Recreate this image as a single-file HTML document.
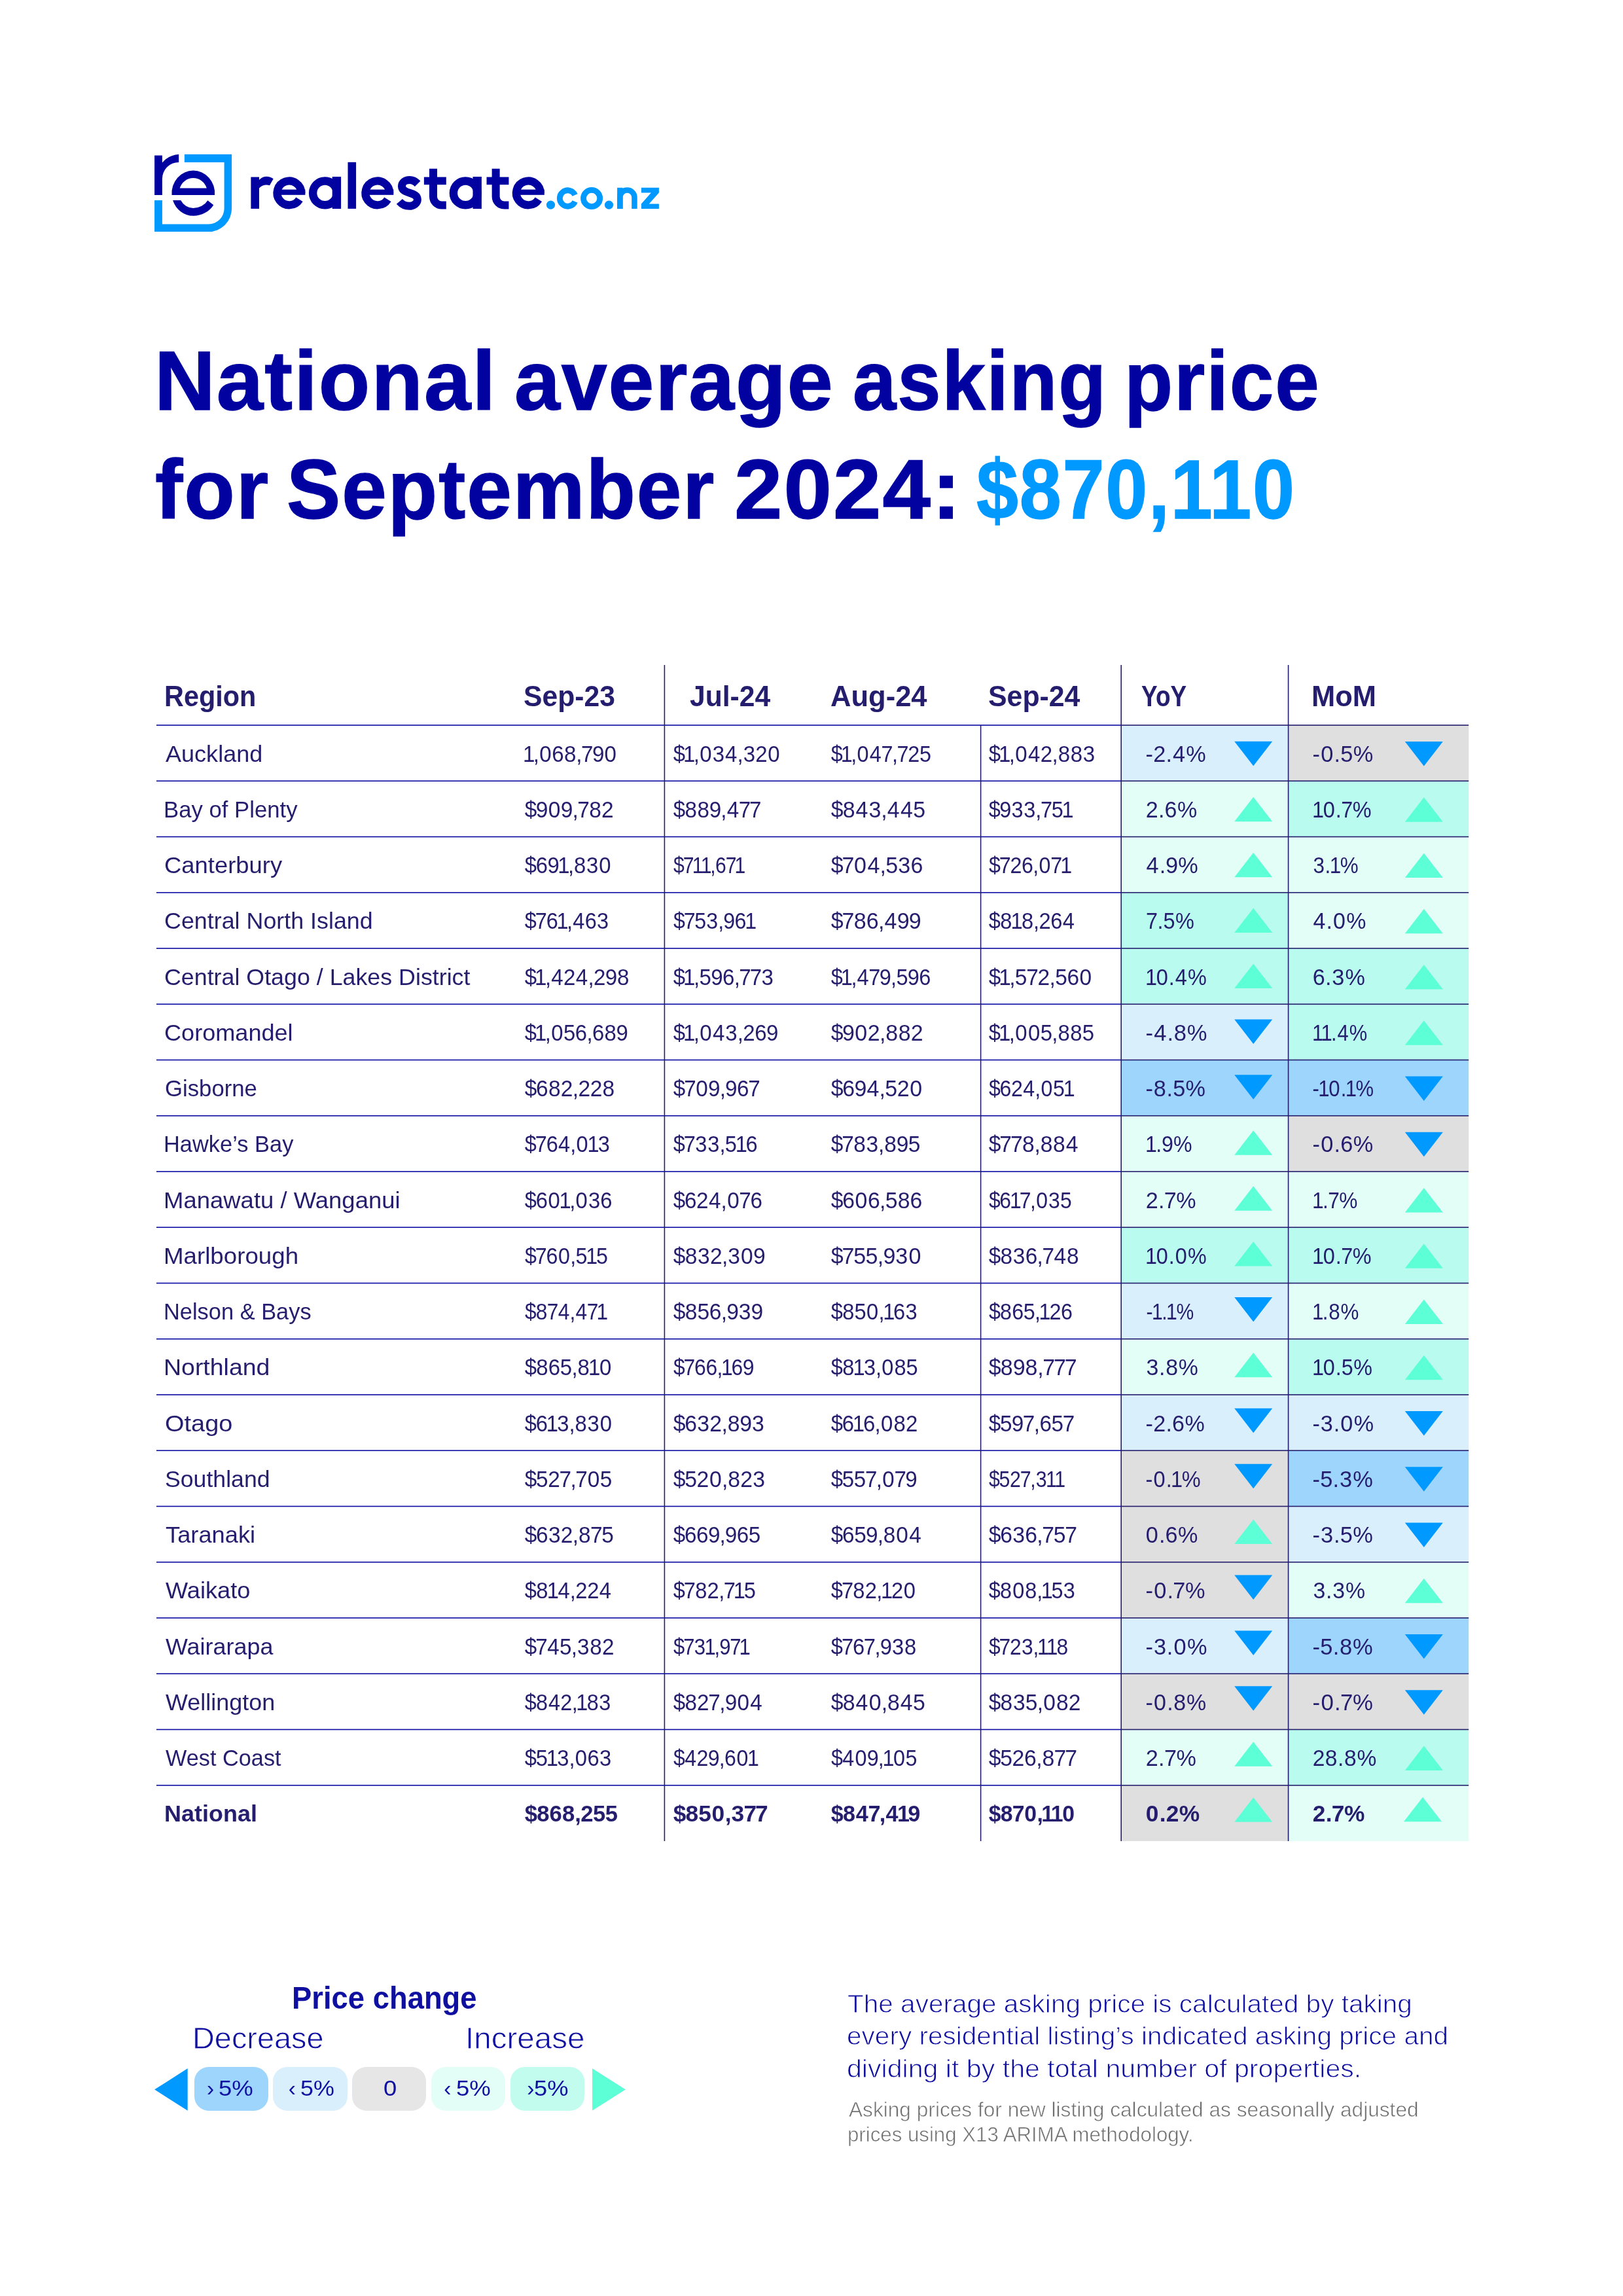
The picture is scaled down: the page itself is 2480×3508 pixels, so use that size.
<!DOCTYPE html>
<html><head><meta charset="utf-8"><title>National average asking price - September 2024</title>
<style>
html,body{margin:0;padding:0;background:#fff;}
body{width:2480px;height:3508px;position:relative;overflow:hidden;font-family:"Liberation Sans",sans-serif;}
.t{position:absolute;white-space:pre;transform-origin:0 0;}
.r{position:absolute;}
.abs{position:absolute;overflow:visible;}
#page{position:absolute;left:0;top:0;width:2480px;height:3508px;background:#fff;will-change:transform;overflow:hidden;}
</style></head><body><div id="page">
<svg class="abs" style="left:0;top:0" width="1100" height="400" viewBox="0 0 1100 400">
<path fill="#0099ff" d="M281.9,235.8 H354.1 V318.6 A35.5,35.5 0 0 1 318.6,354.1 H236.1 V306.1 H247.9 V342.6 H318.6 A24,24 0 0 0 342.6,318.6 V247.9 H281.9 Z"/>
<path fill="#0202a0" d="M236.1,237.5 H247.9 V248.4 A37.4,37.4 0 0 1 273.2,235.8 V247.9 A25.3,25.3 0 0 0 247.9,273.2 V297.9 H236.1 Z"/>
<path fill="#0202a0" fill-rule="evenodd" d="M262.5,297.9 A32.9,34.7 0 1 1 328.1,297.9 Z M274.75,287.4 A21.8,23 0 0 1 315.85,287.4 Z"/>
<path fill="#0202a0" d="M264.1,306.1 H276.2 A21.8,22.8 0 0 0 295.3,317.9 A25.4,22.8 0 0 0 317.4,306.3 L326.3,313.2 A36.3,34.7 0 0 1 295.3,329.8 A32.9,34.7 0 0 1 264.1,306.1 Z"/>
</svg>
<svg class="abs" style="left:0;top:0" width="1100" height="400" viewBox="0 0 1100 400"><rect x="383.40" y="270.50" width="12.60" height="48.40" fill="#0202a0"/><path fill="#0202a0" d="M395.5,275.5 A15.9,15.9 0 0 1 417.7,273.3 L412,283.2 A17,17 0 0 0 395.5,288 Z"/><path d="M460.30,294.90 A18.40,18.40 0 1 0 457.50,304.65" fill="none" stroke="#0202a0" stroke-width="12.2"/><rect x="423.50" y="289.60" width="42.90" height="8.20" fill="#0202a0"/><circle cx="496.50" cy="294.90" r="18.40" fill="none" stroke="#0202a0" stroke-width="12.4"/><rect x="507.70" y="270.00" width="13.40" height="49.00" fill="#0202a0"/><rect x="531.50" y="247.80" width="12.60" height="71.10" fill="#0202a0"/><path d="M595.20,294.90 A18.40,18.40 0 1 0 592.40,304.65" fill="none" stroke="#0202a0" stroke-width="12.2"/><rect x="558.40" y="289.60" width="42.90" height="8.20" fill="#0202a0"/><path d="M638.2,280.75 C634,276.5 630,275.05 625.9,275.05 C619,275.05 614,279 614,284.5 C614,291 620,293 626,294.8 C632,296.6 637.9,298.5 637.9,304.9 C637.9,310.5 632,314.85 625.5,314.85 C619,314.85 613.5,311.5 610.4,307.9" fill="none" stroke="#0202a0" stroke-width="12"/><path d="M662.00,257.7 V300.6 A13,13 0 0 0 675.00,313.6 H681.80" fill="none" stroke="#0202a0" stroke-width="12"/><rect x="647.90" y="270.50" width="33.90" height="11.70" fill="#0202a0"/><circle cx="711.30" cy="294.90" r="18.40" fill="none" stroke="#0202a0" stroke-width="12.4"/><rect x="722.50" y="270.00" width="13.40" height="49.00" fill="#0202a0"/><path d="M757.65,257.7 V300.6 A13,13 0 0 0 770.65,313.6 H777.45" fill="none" stroke="#0202a0" stroke-width="12"/><rect x="743.55" y="270.50" width="33.90" height="11.70" fill="#0202a0"/><path d="M825.70,294.90 A18.40,18.40 0 1 0 822.90,304.65" fill="none" stroke="#0202a0" stroke-width="12.2"/><rect x="788.90" y="289.60" width="42.90" height="8.20" fill="#0202a0"/><circle cx="841.5" cy="313.1" r="6.6" fill="#0099ff"/><path d="M878.65,298.04 A12.20,12.20 0 1 0 878.65,307.96" fill="none" stroke="#0099ff" stroke-width="8.8"/><circle cx="904.10" cy="303.00" r="12.60" fill="none" stroke="#0099ff" stroke-width="8.8"/><circle cx="930.5" cy="313.1" r="6.6" fill="#0099ff"/><rect x="943.10" y="286.80" width="8.50" height="32.30" fill="#0099ff"/><path d="M947.35,319.1 V301.5 A11.05,11.05 0 0 1 969.45,301.5 V319.1" fill="none" stroke="#0099ff" stroke-width="8.5"/><polygon fill="#0099ff" points="979.9,286.8 1006.9,286.8 1006.9,294.4 991.8,311.4 1006.9,311.4 1006.9,319.1 979.9,319.1 979.9,311.4 994.9,294.4 979.9,294.4"/></svg>
<div class="t" style="left:235.99px;top:518.02px;font-size:128.00px;line-height:128.00px;font-weight:bold;color:#0202a0;transform:scaleX(1.0042);letter-spacing:2.0px;-webkit-text-stroke:1.4px #0202a0;">National</div>
<div class="t" style="left:785.66px;top:518.02px;font-size:128.00px;line-height:128.00px;font-weight:bold;color:#0202a0;transform:scaleX(0.9811);letter-spacing:2.0px;-webkit-text-stroke:1.4px #0202a0;">average</div>
<div class="t" style="left:1303.44px;top:518.02px;font-size:128.00px;line-height:128.00px;font-weight:bold;color:#0202a0;transform:scaleX(0.9318);letter-spacing:2.0px;-webkit-text-stroke:1.4px #0202a0;">asking</div>
<div class="t" style="left:1717.69px;top:518.02px;font-size:128.00px;line-height:128.00px;font-weight:bold;color:#0202a0;transform:scaleX(0.9485);letter-spacing:2.0px;-webkit-text-stroke:1.4px #0202a0;">price</div>
<div class="t" style="left:237.24px;top:683.52px;font-size:128.00px;line-height:128.00px;font-weight:bold;color:#0202a0;transform:scaleX(0.9922);letter-spacing:2.0px;-webkit-text-stroke:1.4px #0202a0;">for</div>
<div class="t" style="left:438.22px;top:683.52px;font-size:128.00px;line-height:128.00px;font-weight:bold;color:#0202a0;transform:scaleX(0.9642);letter-spacing:2.0px;-webkit-text-stroke:1.4px #0202a0;">September</div>
<div class="t" style="left:1121.58px;top:683.52px;font-size:128.00px;line-height:128.00px;font-weight:bold;color:#0202a0;transform:scaleX(1.0315);letter-spacing:2.0px;-webkit-text-stroke:1.4px #0202a0;">2024:</div>
<div class="t" style="left:1492.21px;top:683.52px;font-size:128.00px;line-height:128.00px;font-weight:bold;color:#0099ff;transform:scaleX(0.8984);letter-spacing:2.0px;-webkit-text-stroke:1.4px #0099ff;">$870,110</div>
<svg class="abs" style="left:0;top:0" width="2480" height="2900" viewBox="0 0 2480 2900"><rect x="1713.20" y="1108.00" width="255.40" height="85.25" fill="#d9effc"/><rect x="1968.60" y="1108.00" width="275.60" height="85.25" fill="#dfdfdf"/><rect x="1713.20" y="1193.25" width="255.40" height="85.25" fill="#e3fef7"/><rect x="1968.60" y="1193.25" width="275.60" height="85.25" fill="#b9fbee"/><rect x="1713.20" y="1278.50" width="255.40" height="85.25" fill="#e3fef7"/><rect x="1968.60" y="1278.50" width="275.60" height="85.25" fill="#e3fef7"/><rect x="1713.20" y="1363.75" width="255.40" height="85.25" fill="#b9fbee"/><rect x="1968.60" y="1363.75" width="275.60" height="85.25" fill="#e3fef7"/><rect x="1713.20" y="1449.00" width="255.40" height="85.25" fill="#b9fbee"/><rect x="1968.60" y="1449.00" width="275.60" height="85.25" fill="#b9fbee"/><rect x="1713.20" y="1534.25" width="255.40" height="85.25" fill="#d9effc"/><rect x="1968.60" y="1534.25" width="275.60" height="85.25" fill="#b9fbee"/><rect x="1713.20" y="1619.50" width="255.40" height="85.25" fill="#9dd5fd"/><rect x="1968.60" y="1619.50" width="275.60" height="85.25" fill="#9dd5fd"/><rect x="1713.20" y="1704.75" width="255.40" height="85.25" fill="#e3fef7"/><rect x="1968.60" y="1704.75" width="275.60" height="85.25" fill="#dfdfdf"/><rect x="1713.20" y="1790.00" width="255.40" height="85.25" fill="#e3fef7"/><rect x="1968.60" y="1790.00" width="275.60" height="85.25" fill="#e3fef7"/><rect x="1713.20" y="1875.25" width="255.40" height="85.25" fill="#b9fbee"/><rect x="1968.60" y="1875.25" width="275.60" height="85.25" fill="#b9fbee"/><rect x="1713.20" y="1960.50" width="255.40" height="85.25" fill="#d9effc"/><rect x="1968.60" y="1960.50" width="275.60" height="85.25" fill="#e3fef7"/><rect x="1713.20" y="2045.75" width="255.40" height="85.25" fill="#e3fef7"/><rect x="1968.60" y="2045.75" width="275.60" height="85.25" fill="#b9fbee"/><rect x="1713.20" y="2131.00" width="255.40" height="85.25" fill="#d9effc"/><rect x="1968.60" y="2131.00" width="275.60" height="85.25" fill="#d9effc"/><rect x="1713.20" y="2216.25" width="255.40" height="85.25" fill="#dfdfdf"/><rect x="1968.60" y="2216.25" width="275.60" height="85.25" fill="#9dd5fd"/><rect x="1713.20" y="2301.50" width="255.40" height="85.25" fill="#dfdfdf"/><rect x="1968.60" y="2301.50" width="275.60" height="85.25" fill="#d9effc"/><rect x="1713.20" y="2386.75" width="255.40" height="85.25" fill="#dfdfdf"/><rect x="1968.60" y="2386.75" width="275.60" height="85.25" fill="#e3fef7"/><rect x="1713.20" y="2472.00" width="255.40" height="85.25" fill="#d9effc"/><rect x="1968.60" y="2472.00" width="275.60" height="85.25" fill="#9dd5fd"/><rect x="1713.20" y="2557.25" width="255.40" height="85.25" fill="#dfdfdf"/><rect x="1968.60" y="2557.25" width="275.60" height="85.25" fill="#dfdfdf"/><rect x="1713.20" y="2642.50" width="255.40" height="85.25" fill="#e3fef7"/><rect x="1968.60" y="2642.50" width="275.60" height="85.25" fill="#b9fbee"/><rect x="1713.20" y="2727.75" width="255.40" height="85.25" fill="#dfdfdf"/><rect x="1968.60" y="2727.75" width="275.60" height="85.25" fill="#e3fef7"/><rect x="239.00" y="1107.20" width="1474.20" height="1.6" fill="#0a0aa2"/><rect x="1713.20" y="1107.20" width="531.00" height="1.6" fill="#241c6c"/><rect x="239.00" y="1192.45" width="1474.20" height="1.6" fill="#0a0aa2"/><rect x="1713.20" y="1192.45" width="531.00" height="1.6" fill="#241c6c"/><rect x="239.00" y="1277.70" width="1474.20" height="1.6" fill="#0a0aa2"/><rect x="1713.20" y="1277.70" width="531.00" height="1.6" fill="#241c6c"/><rect x="239.00" y="1362.95" width="1474.20" height="1.6" fill="#0a0aa2"/><rect x="1713.20" y="1362.95" width="531.00" height="1.6" fill="#241c6c"/><rect x="239.00" y="1448.20" width="1474.20" height="1.6" fill="#0a0aa2"/><rect x="1713.20" y="1448.20" width="531.00" height="1.6" fill="#241c6c"/><rect x="239.00" y="1533.45" width="1474.20" height="1.6" fill="#0a0aa2"/><rect x="1713.20" y="1533.45" width="531.00" height="1.6" fill="#241c6c"/><rect x="239.00" y="1618.70" width="1474.20" height="1.6" fill="#0a0aa2"/><rect x="1713.20" y="1618.70" width="531.00" height="1.6" fill="#241c6c"/><rect x="239.00" y="1703.95" width="1474.20" height="1.6" fill="#0a0aa2"/><rect x="1713.20" y="1703.95" width="531.00" height="1.6" fill="#241c6c"/><rect x="239.00" y="1789.20" width="1474.20" height="1.6" fill="#0a0aa2"/><rect x="1713.20" y="1789.20" width="531.00" height="1.6" fill="#241c6c"/><rect x="239.00" y="1874.45" width="1474.20" height="1.6" fill="#0a0aa2"/><rect x="1713.20" y="1874.45" width="531.00" height="1.6" fill="#241c6c"/><rect x="239.00" y="1959.70" width="1474.20" height="1.6" fill="#0a0aa2"/><rect x="1713.20" y="1959.70" width="531.00" height="1.6" fill="#241c6c"/><rect x="239.00" y="2044.95" width="1474.20" height="1.6" fill="#0a0aa2"/><rect x="1713.20" y="2044.95" width="531.00" height="1.6" fill="#241c6c"/><rect x="239.00" y="2130.20" width="1474.20" height="1.6" fill="#0a0aa2"/><rect x="1713.20" y="2130.20" width="531.00" height="1.6" fill="#241c6c"/><rect x="239.00" y="2215.45" width="1474.20" height="1.6" fill="#0a0aa2"/><rect x="1713.20" y="2215.45" width="531.00" height="1.6" fill="#241c6c"/><rect x="239.00" y="2300.70" width="1474.20" height="1.6" fill="#0a0aa2"/><rect x="1713.20" y="2300.70" width="531.00" height="1.6" fill="#241c6c"/><rect x="239.00" y="2385.95" width="1474.20" height="1.6" fill="#0a0aa2"/><rect x="1713.20" y="2385.95" width="531.00" height="1.6" fill="#241c6c"/><rect x="239.00" y="2471.20" width="1474.20" height="1.6" fill="#0a0aa2"/><rect x="1713.20" y="2471.20" width="531.00" height="1.6" fill="#241c6c"/><rect x="239.00" y="2556.45" width="1474.20" height="1.6" fill="#0a0aa2"/><rect x="1713.20" y="2556.45" width="531.00" height="1.6" fill="#241c6c"/><rect x="239.00" y="2641.70" width="1474.20" height="1.6" fill="#0a0aa2"/><rect x="1713.20" y="2641.70" width="531.00" height="1.6" fill="#241c6c"/><rect x="239.00" y="2726.95" width="1474.20" height="1.6" fill="#0a0aa2"/><rect x="1713.20" y="2726.95" width="531.00" height="1.6" fill="#241c6c"/><rect x="1014.60" y="1016.00" width="1.6" height="1797.00" fill="#241c6c"/><rect x="1497.80" y="1108.00" width="1.6" height="1705.00" fill="#241c6c"/><rect x="1712.40" y="1016.00" width="1.6" height="1797.00" fill="#241c6c"/><rect x="1967.80" y="1016.00" width="1.6" height="1797.00" fill="#241c6c"/><polygon fill="#0099ff" points="1886.20,1132.85 1944.20,1132.85 1915.20,1170.35"/><polygon fill="#0099ff" points="2146.80,1133.08 2204.80,1133.08 2175.80,1170.58"/><polygon fill="#5dffd6" points="1915.20,1217.76 1944.20,1255.26 1886.20,1255.26"/><polygon fill="#5dffd6" points="2175.80,1218.33 2204.80,1255.83 2146.80,1255.83"/><polygon fill="#5dffd6" points="1915.20,1302.67 1944.20,1340.17 1886.20,1340.17"/><polygon fill="#5dffd6" points="2175.80,1303.58 2204.80,1341.08 2146.80,1341.08"/><polygon fill="#5dffd6" points="1915.20,1387.58 1944.20,1425.08 1886.20,1425.08"/><polygon fill="#5dffd6" points="2175.80,1388.83 2204.80,1426.33 2146.80,1426.33"/><polygon fill="#5dffd6" points="1915.20,1472.49 1944.20,1509.99 1886.20,1509.99"/><polygon fill="#5dffd6" points="2175.80,1474.08 2204.80,1511.58 2146.80,1511.58"/><polygon fill="#0099ff" points="1886.20,1557.40 1944.20,1557.40 1915.20,1594.90"/><polygon fill="#5dffd6" points="2175.80,1559.33 2204.80,1596.83 2146.80,1596.83"/><polygon fill="#0099ff" points="1886.20,1642.31 1944.20,1642.31 1915.20,1679.81"/><polygon fill="#0099ff" points="2146.80,1644.58 2204.80,1644.58 2175.80,1682.08"/><polygon fill="#5dffd6" points="1915.20,1727.22 1944.20,1764.72 1886.20,1764.72"/><polygon fill="#0099ff" points="2146.80,1729.83 2204.80,1729.83 2175.80,1767.33"/><polygon fill="#5dffd6" points="1915.20,1812.13 1944.20,1849.63 1886.20,1849.63"/><polygon fill="#5dffd6" points="2175.80,1815.08 2204.80,1852.58 2146.80,1852.58"/><polygon fill="#5dffd6" points="1915.20,1897.04 1944.20,1934.54 1886.20,1934.54"/><polygon fill="#5dffd6" points="2175.80,1900.33 2204.80,1937.83 2146.80,1937.83"/><polygon fill="#0099ff" points="1886.20,1981.95 1944.20,1981.95 1915.20,2019.45"/><polygon fill="#5dffd6" points="2175.80,1985.58 2204.80,2023.08 2146.80,2023.08"/><polygon fill="#5dffd6" points="1915.20,2066.86 1944.20,2104.36 1886.20,2104.36"/><polygon fill="#5dffd6" points="2175.80,2070.82 2204.80,2108.32 2146.80,2108.32"/><polygon fill="#0099ff" points="1886.20,2151.77 1944.20,2151.77 1915.20,2189.27"/><polygon fill="#0099ff" points="2146.80,2156.07 2204.80,2156.07 2175.80,2193.57"/><polygon fill="#0099ff" points="1886.20,2236.68 1944.20,2236.68 1915.20,2274.18"/><polygon fill="#0099ff" points="2146.80,2241.32 2204.80,2241.32 2175.80,2278.82"/><polygon fill="#5dffd6" points="1915.20,2321.59 1944.20,2359.09 1886.20,2359.09"/><polygon fill="#0099ff" points="2146.80,2326.57 2204.80,2326.57 2175.80,2364.07"/><polygon fill="#0099ff" points="1886.20,2406.50 1944.20,2406.50 1915.20,2444.00"/><polygon fill="#5dffd6" points="2175.80,2411.82 2204.80,2449.32 2146.80,2449.32"/><polygon fill="#0099ff" points="1886.20,2491.41 1944.20,2491.41 1915.20,2528.91"/><polygon fill="#0099ff" points="2146.80,2497.07 2204.80,2497.07 2175.80,2534.57"/><polygon fill="#0099ff" points="1886.20,2576.32 1944.20,2576.32 1915.20,2613.82"/><polygon fill="#0099ff" points="2146.80,2582.32 2204.80,2582.32 2175.80,2619.82"/><polygon fill="#5dffd6" points="1915.20,2661.23 1944.20,2698.73 1886.20,2698.73"/><polygon fill="#5dffd6" points="2175.80,2667.57 2204.80,2705.07 2146.80,2705.07"/><polygon fill="#5dffd6" points="1915.20,2746.14 1944.20,2783.64 1886.20,2783.64"/><polygon fill="#5dffd6" points="2174.00,2745.75 2203.00,2783.25 2145.00,2783.25"/></svg>
<div class="t" style="left:250.53px;top:1042.03px;font-size:43.90px;line-height:43.90px;font-weight:bold;color:#251d6d;transform:scaleX(0.9433);">Region</div>
<div class="t" style="left:800.36px;top:1042.03px;font-size:43.90px;line-height:43.90px;font-weight:bold;color:#251d6d;transform:scaleX(0.9717);">Sep-23</div>
<div class="t" style="left:1053.56px;top:1042.03px;font-size:43.90px;line-height:43.90px;font-weight:bold;color:#251d6d;transform:scaleX(0.9707);">Jul-24</div>
<div class="t" style="left:1268.81px;top:1042.03px;font-size:43.90px;line-height:43.90px;font-weight:bold;color:#251d6d;transform:scaleX(0.9921);">Aug-24</div>
<div class="t" style="left:1510.16px;top:1042.03px;font-size:43.90px;line-height:43.90px;font-weight:bold;color:#251d6d;transform:scaleX(0.9757);">Sep-24</div>
<div class="t" style="left:1743.57px;top:1042.03px;font-size:43.90px;line-height:43.90px;font-weight:bold;color:#251d6d;transform:scaleX(0.8415);">YoY</div>
<div class="t" style="left:2004.09px;top:1042.03px;font-size:43.90px;line-height:43.90px;font-weight:bold;color:#251d6d;transform:scaleX(0.9907);">MoM</div>
<div class="t" style="left:253.23px;top:1134.60px;font-size:34.60px;line-height:34.60px;font-weight:normal;color:#251d6d;transform:scaleX(1.0424);">Auckland</div>
<div class="t" style="left:801.37px;top:1134.60px;font-size:34.60px;line-height:34.60px;font-weight:normal;color:#251d6d;transform:scaleX(0.9581);"><span style="margin-left:-2.18px;letter-spacing:-2.18px">1</span><span style="margin-left:-0.46px;letter-spacing:-0.46px">,</span><span style="margin-left:0.79px;letter-spacing:0.79px">0</span><span style="margin-left:-0.21px;letter-spacing:-0.21px">6</span><span style="margin-left:0.33px;letter-spacing:0.33px">8</span><span style="margin-left:-0.46px;letter-spacing:-0.46px">,</span><span style="margin-left:-1.09px;letter-spacing:-1.09px">7</span><span style="margin-left:-0.47px;letter-spacing:-0.47px">9</span><span style="margin-left:0.79px;letter-spacing:0.79px">0</span></div>
<div class="t" style="left:1029.69px;top:1134.60px;font-size:34.60px;line-height:34.60px;font-weight:normal;color:#251d6d;transform:scaleX(0.9535);"><span style="margin-left:-1.21px;letter-spacing:-1.21px">$</span><span style="margin-left:-2.18px;letter-spacing:-2.18px">1</span><span style="margin-left:-0.46px;letter-spacing:-0.46px">,</span><span style="margin-left:0.79px;letter-spacing:0.79px">0</span><span style="margin-left:0.43px;letter-spacing:0.43px">3</span><span style="margin-left:0.60px;letter-spacing:0.60px">4</span><span style="margin-left:-0.46px;letter-spacing:-0.46px">,</span><span style="margin-left:0.43px;letter-spacing:0.43px">3</span><span style="margin-left:-0.18px;letter-spacing:-0.18px">2</span><span style="margin-left:0.79px;letter-spacing:0.79px">0</span></div>
<div class="t" style="left:1271.18px;top:1134.60px;font-size:34.60px;line-height:34.60px;font-weight:normal;color:#251d6d;transform:scaleX(0.9356);"><span style="margin-left:-1.21px;letter-spacing:-1.21px">$</span><span style="margin-left:-2.18px;letter-spacing:-2.18px">1</span><span style="margin-left:-0.46px;letter-spacing:-0.46px">,</span><span style="margin-left:0.79px;letter-spacing:0.79px">0</span><span style="margin-left:0.60px;letter-spacing:0.60px">4</span><span style="margin-left:-1.09px;letter-spacing:-1.09px">7</span><span style="margin-left:-0.46px;letter-spacing:-0.46px">,</span><span style="margin-left:-1.09px;letter-spacing:-1.09px">7</span><span style="margin-left:-0.18px;letter-spacing:-0.18px">2</span><span style="margin-left:-0.24px;letter-spacing:-0.24px">5</span></div>
<div class="t" style="left:1512.30px;top:1134.60px;font-size:34.60px;line-height:34.60px;font-weight:normal;color:#251d6d;transform:scaleX(0.9548);"><span style="margin-left:-1.21px;letter-spacing:-1.21px">$</span><span style="margin-left:-2.18px;letter-spacing:-2.18px">1</span><span style="margin-left:-0.46px;letter-spacing:-0.46px">,</span><span style="margin-left:0.79px;letter-spacing:0.79px">0</span><span style="margin-left:0.60px;letter-spacing:0.60px">4</span><span style="margin-left:-0.18px;letter-spacing:-0.18px">2</span><span style="margin-left:-0.46px;letter-spacing:-0.46px">,</span><span style="margin-left:0.33px;letter-spacing:0.33px">8</span><span style="margin-left:0.33px;letter-spacing:0.33px">8</span><span style="margin-left:0.43px;letter-spacing:0.43px">3</span></div>
<div class="t" style="left:1750.28px;top:1134.60px;font-size:34.60px;line-height:34.60px;font-weight:normal;color:#251d6d;transform:scaleX(0.9913);"><span style="margin-left:0.52px;letter-spacing:0.52px">-</span><span style="margin-left:-0.18px;letter-spacing:-0.18px">2</span><span style="margin-left:0.38px;letter-spacing:0.38px">.</span><span style="margin-left:0.60px;letter-spacing:0.60px">4</span><span style="margin-left:0.60px;letter-spacing:0.60px">%</span></div>
<div class="t" style="left:2005.27px;top:1134.60px;font-size:34.60px;line-height:34.60px;font-weight:normal;color:#251d6d;transform:scaleX(0.9941);"><span style="margin-left:0.52px;letter-spacing:0.52px">-</span><span style="margin-left:0.79px;letter-spacing:0.79px">0</span><span style="margin-left:0.38px;letter-spacing:0.38px">.</span><span style="margin-left:-0.24px;letter-spacing:-0.24px">5</span><span style="margin-left:0.60px;letter-spacing:0.60px">%</span></div>
<div class="t" style="left:250.45px;top:1219.85px;font-size:34.60px;line-height:34.60px;font-weight:normal;color:#251d6d;transform:scaleX(1.0037);">Bay of Plenty</div>
<div class="t" style="left:802.61px;top:1219.85px;font-size:34.60px;line-height:34.60px;font-weight:normal;color:#251d6d;transform:scaleX(0.9692);"><span style="margin-left:-1.21px;letter-spacing:-1.21px">$</span><span style="margin-left:-0.47px;letter-spacing:-0.47px">9</span><span style="margin-left:0.79px;letter-spacing:0.79px">0</span><span style="margin-left:-0.47px;letter-spacing:-0.47px">9</span><span style="margin-left:-0.46px;letter-spacing:-0.46px">,</span><span style="margin-left:-1.09px;letter-spacing:-1.09px">7</span><span style="margin-left:0.33px;letter-spacing:0.33px">8</span><span style="margin-left:-0.18px;letter-spacing:-0.18px">2</span></div>
<div class="t" style="left:1029.70px;top:1219.85px;font-size:34.60px;line-height:34.60px;font-weight:normal;color:#251d6d;transform:scaleX(0.9585);"><span style="margin-left:-1.21px;letter-spacing:-1.21px">$</span><span style="margin-left:0.33px;letter-spacing:0.33px">8</span><span style="margin-left:0.33px;letter-spacing:0.33px">8</span><span style="margin-left:-0.47px;letter-spacing:-0.47px">9</span><span style="margin-left:-0.46px;letter-spacing:-0.46px">,</span><span style="margin-left:0.60px;letter-spacing:0.60px">4</span><span style="margin-left:-1.09px;letter-spacing:-1.09px">7</span><span style="margin-left:-1.09px;letter-spacing:-1.09px">7</span></div>
<div class="t" style="left:1271.22px;top:1219.85px;font-size:34.60px;line-height:34.60px;font-weight:normal;color:#251d6d;transform:scaleX(0.9806);"><span style="margin-left:-1.21px;letter-spacing:-1.21px">$</span><span style="margin-left:0.33px;letter-spacing:0.33px">8</span><span style="margin-left:0.60px;letter-spacing:0.60px">4</span><span style="margin-left:0.43px;letter-spacing:0.43px">3</span><span style="margin-left:-0.46px;letter-spacing:-0.46px">,</span><span style="margin-left:0.60px;letter-spacing:0.60px">4</span><span style="margin-left:0.60px;letter-spacing:0.60px">4</span><span style="margin-left:-0.24px;letter-spacing:-0.24px">5</span></div>
<div class="t" style="left:1512.28px;top:1219.85px;font-size:34.60px;line-height:34.60px;font-weight:normal;color:#251d6d;transform:scaleX(0.9396);"><span style="margin-left:-1.21px;letter-spacing:-1.21px">$</span><span style="margin-left:-0.47px;letter-spacing:-0.47px">9</span><span style="margin-left:0.43px;letter-spacing:0.43px">3</span><span style="margin-left:0.43px;letter-spacing:0.43px">3</span><span style="margin-left:-0.46px;letter-spacing:-0.46px">,</span><span style="margin-left:-1.09px;letter-spacing:-1.09px">7</span><span style="margin-left:-0.24px;letter-spacing:-0.24px">5</span><span style="margin-left:-2.18px;letter-spacing:-2.18px">1</span></div>
<div class="t" style="left:1750.77px;top:1219.85px;font-size:34.60px;line-height:34.60px;font-weight:normal;color:#251d6d;transform:scaleX(0.9845);"><span style="margin-left:-0.18px;letter-spacing:-0.18px">2</span><span style="margin-left:0.38px;letter-spacing:0.38px">.</span><span style="margin-left:-0.21px;letter-spacing:-0.21px">6</span><span style="margin-left:0.60px;letter-spacing:0.60px">%</span></div>
<div class="t" style="left:2006.88px;top:1219.85px;font-size:34.60px;line-height:34.60px;font-weight:normal;color:#251d6d;transform:scaleX(0.9381);"><span style="margin-left:-2.18px;letter-spacing:-2.18px">1</span><span style="margin-left:0.79px;letter-spacing:0.79px">0</span><span style="margin-left:0.38px;letter-spacing:0.38px">.</span><span style="margin-left:-1.09px;letter-spacing:-1.09px">7</span><span style="margin-left:0.60px;letter-spacing:0.60px">%</span></div>
<div class="t" style="left:251.44px;top:1305.10px;font-size:34.60px;line-height:34.60px;font-weight:normal;color:#251d6d;transform:scaleX(1.0530);">Canterbury</div>
<div class="t" style="left:802.59px;top:1305.10px;font-size:34.60px;line-height:34.60px;font-weight:normal;color:#251d6d;transform:scaleX(0.9495);"><span style="margin-left:-1.21px;letter-spacing:-1.21px">$</span><span style="margin-left:-0.21px;letter-spacing:-0.21px">6</span><span style="margin-left:-0.47px;letter-spacing:-0.47px">9</span><span style="margin-left:-2.18px;letter-spacing:-2.18px">1</span><span style="margin-left:-0.46px;letter-spacing:-0.46px">,</span><span style="margin-left:0.33px;letter-spacing:0.33px">8</span><span style="margin-left:0.43px;letter-spacing:0.43px">3</span><span style="margin-left:0.79px;letter-spacing:0.79px">0</span></div>
<div class="t" style="left:1029.63px;top:1305.10px;font-size:34.60px;line-height:34.60px;font-weight:normal;color:#251d6d;transform:scaleX(0.8723);"><span style="margin-left:-1.21px;letter-spacing:-1.21px">$</span><span style="margin-left:-1.09px;letter-spacing:-1.09px">7</span><span style="margin-left:-2.18px;letter-spacing:-2.18px">1</span><span style="margin-left:-2.18px;letter-spacing:-2.18px">1</span><span style="margin-left:-0.46px;letter-spacing:-0.46px">,</span><span style="margin-left:-0.21px;letter-spacing:-0.21px">6</span><span style="margin-left:-1.09px;letter-spacing:-1.09px">7</span><span style="margin-left:-2.18px;letter-spacing:-2.18px">1</span></div>
<div class="t" style="left:1271.22px;top:1305.10px;font-size:34.60px;line-height:34.60px;font-weight:normal;color:#251d6d;transform:scaleX(0.9835);"><span style="margin-left:-1.21px;letter-spacing:-1.21px">$</span><span style="margin-left:-1.09px;letter-spacing:-1.09px">7</span><span style="margin-left:0.79px;letter-spacing:0.79px">0</span><span style="margin-left:0.60px;letter-spacing:0.60px">4</span><span style="margin-left:-0.46px;letter-spacing:-0.46px">,</span><span style="margin-left:-0.24px;letter-spacing:-0.24px">5</span><span style="margin-left:0.43px;letter-spacing:0.43px">3</span><span style="margin-left:-0.21px;letter-spacing:-0.21px">6</span></div>
<div class="t" style="left:1512.28px;top:1305.10px;font-size:34.60px;line-height:34.60px;font-weight:normal;color:#251d6d;transform:scaleX(0.9319);"><span style="margin-left:-1.21px;letter-spacing:-1.21px">$</span><span style="margin-left:-1.09px;letter-spacing:-1.09px">7</span><span style="margin-left:-0.18px;letter-spacing:-0.18px">2</span><span style="margin-left:-0.21px;letter-spacing:-0.21px">6</span><span style="margin-left:-0.46px;letter-spacing:-0.46px">,</span><span style="margin-left:0.79px;letter-spacing:0.79px">0</span><span style="margin-left:-1.09px;letter-spacing:-1.09px">7</span><span style="margin-left:-2.18px;letter-spacing:-2.18px">1</span></div>
<div class="t" style="left:1750.91px;top:1305.10px;font-size:34.60px;line-height:34.60px;font-weight:normal;color:#251d6d;transform:scaleX(0.9925);"><span style="margin-left:0.60px;letter-spacing:0.60px">4</span><span style="margin-left:0.38px;letter-spacing:0.38px">.</span><span style="margin-left:-0.47px;letter-spacing:-0.47px">9</span><span style="margin-left:0.60px;letter-spacing:0.60px">%</span></div>
<div class="t" style="left:2005.71px;top:1305.10px;font-size:34.60px;line-height:34.60px;font-weight:normal;color:#251d6d;transform:scaleX(0.9096);"><span style="margin-left:0.43px;letter-spacing:0.43px">3</span><span style="margin-left:0.38px;letter-spacing:0.38px">.</span><span style="margin-left:-2.18px;letter-spacing:-2.18px">1</span><span style="margin-left:0.60px;letter-spacing:0.60px">%</span></div>
<div class="t" style="left:251.47px;top:1390.35px;font-size:34.60px;line-height:34.60px;font-weight:normal;color:#251d6d;transform:scaleX(1.0365);">Central North Island</div>
<div class="t" style="left:802.58px;top:1390.35px;font-size:34.60px;line-height:34.60px;font-weight:normal;color:#251d6d;transform:scaleX(0.9390);"><span style="margin-left:-1.21px;letter-spacing:-1.21px">$</span><span style="margin-left:-1.09px;letter-spacing:-1.09px">7</span><span style="margin-left:-0.21px;letter-spacing:-0.21px">6</span><span style="margin-left:-2.18px;letter-spacing:-2.18px">1</span><span style="margin-left:-0.46px;letter-spacing:-0.46px">,</span><span style="margin-left:0.60px;letter-spacing:0.60px">4</span><span style="margin-left:-0.21px;letter-spacing:-0.21px">6</span><span style="margin-left:0.43px;letter-spacing:0.43px">3</span></div>
<div class="t" style="left:1029.67px;top:1390.35px;font-size:34.60px;line-height:34.60px;font-weight:normal;color:#251d6d;transform:scaleX(0.9292);"><span style="margin-left:-1.21px;letter-spacing:-1.21px">$</span><span style="margin-left:-1.09px;letter-spacing:-1.09px">7</span><span style="margin-left:-0.24px;letter-spacing:-0.24px">5</span><span style="margin-left:0.43px;letter-spacing:0.43px">3</span><span style="margin-left:-0.46px;letter-spacing:-0.46px">,</span><span style="margin-left:-0.47px;letter-spacing:-0.47px">9</span><span style="margin-left:-0.21px;letter-spacing:-0.21px">6</span><span style="margin-left:-2.18px;letter-spacing:-2.18px">1</span></div>
<div class="t" style="left:1271.22px;top:1390.35px;font-size:34.60px;line-height:34.60px;font-weight:normal;color:#251d6d;transform:scaleX(0.9840);"><span style="margin-left:-1.21px;letter-spacing:-1.21px">$</span><span style="margin-left:-1.09px;letter-spacing:-1.09px">7</span><span style="margin-left:0.33px;letter-spacing:0.33px">8</span><span style="margin-left:-0.21px;letter-spacing:-0.21px">6</span><span style="margin-left:-0.46px;letter-spacing:-0.46px">,</span><span style="margin-left:0.60px;letter-spacing:0.60px">4</span><span style="margin-left:-0.47px;letter-spacing:-0.47px">9</span><span style="margin-left:-0.47px;letter-spacing:-0.47px">9</span></div>
<div class="t" style="left:1512.29px;top:1390.35px;font-size:34.60px;line-height:34.60px;font-weight:normal;color:#251d6d;transform:scaleX(0.9429);"><span style="margin-left:-1.21px;letter-spacing:-1.21px">$</span><span style="margin-left:0.33px;letter-spacing:0.33px">8</span><span style="margin-left:-2.18px;letter-spacing:-2.18px">1</span><span style="margin-left:0.33px;letter-spacing:0.33px">8</span><span style="margin-left:-0.46px;letter-spacing:-0.46px">,</span><span style="margin-left:-0.18px;letter-spacing:-0.18px">2</span><span style="margin-left:-0.21px;letter-spacing:-0.21px">6</span><span style="margin-left:0.60px;letter-spacing:0.60px">4</span></div>
<div class="t" style="left:1751.67px;top:1390.35px;font-size:34.60px;line-height:34.60px;font-weight:normal;color:#251d6d;transform:scaleX(0.9383);"><span style="margin-left:-1.09px;letter-spacing:-1.09px">7</span><span style="margin-left:0.38px;letter-spacing:0.38px">.</span><span style="margin-left:-0.24px;letter-spacing:-0.24px">5</span><span style="margin-left:0.60px;letter-spacing:0.60px">%</span></div>
<div class="t" style="left:2005.93px;top:1390.35px;font-size:34.60px;line-height:34.60px;font-weight:normal;color:#251d6d;transform:scaleX(0.9825);"><span style="margin-left:0.60px;letter-spacing:0.60px">4</span><span style="margin-left:0.38px;letter-spacing:0.38px">.</span><span style="margin-left:0.79px;letter-spacing:0.79px">0</span><span style="margin-left:0.60px;letter-spacing:0.60px">%</span></div>
<div class="t" style="left:251.47px;top:1475.60px;font-size:34.60px;line-height:34.60px;font-weight:normal;color:#251d6d;transform:scaleX(1.0351);">Central Otago / Lakes District</div>
<div class="t" style="left:802.60px;top:1475.60px;font-size:34.60px;line-height:34.60px;font-weight:normal;color:#251d6d;transform:scaleX(0.9566);"><span style="margin-left:-1.21px;letter-spacing:-1.21px">$</span><span style="margin-left:-2.18px;letter-spacing:-2.18px">1</span><span style="margin-left:-0.46px;letter-spacing:-0.46px">,</span><span style="margin-left:0.60px;letter-spacing:0.60px">4</span><span style="margin-left:-0.18px;letter-spacing:-0.18px">2</span><span style="margin-left:0.60px;letter-spacing:0.60px">4</span><span style="margin-left:-0.46px;letter-spacing:-0.46px">,</span><span style="margin-left:-0.18px;letter-spacing:-0.18px">2</span><span style="margin-left:-0.47px;letter-spacing:-0.47px">9</span><span style="margin-left:0.33px;letter-spacing:0.33px">8</span></div>
<div class="t" style="left:1029.70px;top:1475.60px;font-size:34.60px;line-height:34.60px;font-weight:normal;color:#251d6d;transform:scaleX(0.9561);"><span style="margin-left:-1.21px;letter-spacing:-1.21px">$</span><span style="margin-left:-2.18px;letter-spacing:-2.18px">1</span><span style="margin-left:-0.46px;letter-spacing:-0.46px">,</span><span style="margin-left:-0.24px;letter-spacing:-0.24px">5</span><span style="margin-left:-0.47px;letter-spacing:-0.47px">9</span><span style="margin-left:-0.21px;letter-spacing:-0.21px">6</span><span style="margin-left:-0.46px;letter-spacing:-0.46px">,</span><span style="margin-left:-1.09px;letter-spacing:-1.09px">7</span><span style="margin-left:-1.09px;letter-spacing:-1.09px">7</span><span style="margin-left:0.43px;letter-spacing:0.43px">3</span></div>
<div class="t" style="left:1271.18px;top:1475.60px;font-size:34.60px;line-height:34.60px;font-weight:normal;color:#251d6d;transform:scaleX(0.9397);"><span style="margin-left:-1.21px;letter-spacing:-1.21px">$</span><span style="margin-left:-2.18px;letter-spacing:-2.18px">1</span><span style="margin-left:-0.46px;letter-spacing:-0.46px">,</span><span style="margin-left:0.60px;letter-spacing:0.60px">4</span><span style="margin-left:-1.09px;letter-spacing:-1.09px">7</span><span style="margin-left:-0.47px;letter-spacing:-0.47px">9</span><span style="margin-left:-0.46px;letter-spacing:-0.46px">,</span><span style="margin-left:-0.24px;letter-spacing:-0.24px">5</span><span style="margin-left:-0.47px;letter-spacing:-0.47px">9</span><span style="margin-left:-0.21px;letter-spacing:-0.21px">6</span></div>
<div class="t" style="left:1512.31px;top:1475.60px;font-size:34.60px;line-height:34.60px;font-weight:normal;color:#251d6d;transform:scaleX(0.9673);"><span style="margin-left:-1.21px;letter-spacing:-1.21px">$</span><span style="margin-left:-2.18px;letter-spacing:-2.18px">1</span><span style="margin-left:-0.46px;letter-spacing:-0.46px">,</span><span style="margin-left:-0.24px;letter-spacing:-0.24px">5</span><span style="margin-left:-1.09px;letter-spacing:-1.09px">7</span><span style="margin-left:-0.18px;letter-spacing:-0.18px">2</span><span style="margin-left:-0.46px;letter-spacing:-0.46px">,</span><span style="margin-left:-0.24px;letter-spacing:-0.24px">5</span><span style="margin-left:-0.21px;letter-spacing:-0.21px">6</span><span style="margin-left:0.79px;letter-spacing:0.79px">0</span></div>
<div class="t" style="left:1751.88px;top:1475.60px;font-size:34.60px;line-height:34.60px;font-weight:normal;color:#251d6d;transform:scaleX(0.9383);"><span style="margin-left:-2.18px;letter-spacing:-2.18px">1</span><span style="margin-left:0.79px;letter-spacing:0.79px">0</span><span style="margin-left:0.38px;letter-spacing:0.38px">.</span><span style="margin-left:0.60px;letter-spacing:0.60px">4</span><span style="margin-left:0.60px;letter-spacing:0.60px">%</span></div>
<div class="t" style="left:2005.76px;top:1475.60px;font-size:34.60px;line-height:34.60px;font-weight:normal;color:#251d6d;transform:scaleX(0.9897);"><span style="margin-left:-0.21px;letter-spacing:-0.21px">6</span><span style="margin-left:0.38px;letter-spacing:0.38px">.</span><span style="margin-left:0.43px;letter-spacing:0.43px">3</span><span style="margin-left:0.60px;letter-spacing:0.60px">%</span></div>
<div class="t" style="left:251.46px;top:1560.85px;font-size:34.60px;line-height:34.60px;font-weight:normal;color:#251d6d;transform:scaleX(1.0440);">Coromandel</div>
<div class="t" style="left:802.59px;top:1560.85px;font-size:34.60px;line-height:34.60px;font-weight:normal;color:#251d6d;transform:scaleX(0.9503);"><span style="margin-left:-1.21px;letter-spacing:-1.21px">$</span><span style="margin-left:-2.18px;letter-spacing:-2.18px">1</span><span style="margin-left:-0.46px;letter-spacing:-0.46px">,</span><span style="margin-left:0.79px;letter-spacing:0.79px">0</span><span style="margin-left:-0.24px;letter-spacing:-0.24px">5</span><span style="margin-left:-0.21px;letter-spacing:-0.21px">6</span><span style="margin-left:-0.46px;letter-spacing:-0.46px">,</span><span style="margin-left:-0.21px;letter-spacing:-0.21px">6</span><span style="margin-left:0.33px;letter-spacing:0.33px">8</span><span style="margin-left:-0.47px;letter-spacing:-0.47px">9</span></div>
<div class="t" style="left:1029.69px;top:1560.85px;font-size:34.60px;line-height:34.60px;font-weight:normal;color:#251d6d;transform:scaleX(0.9541);"><span style="margin-left:-1.21px;letter-spacing:-1.21px">$</span><span style="margin-left:-2.18px;letter-spacing:-2.18px">1</span><span style="margin-left:-0.46px;letter-spacing:-0.46px">,</span><span style="margin-left:0.79px;letter-spacing:0.79px">0</span><span style="margin-left:0.60px;letter-spacing:0.60px">4</span><span style="margin-left:0.43px;letter-spacing:0.43px">3</span><span style="margin-left:-0.46px;letter-spacing:-0.46px">,</span><span style="margin-left:-0.18px;letter-spacing:-0.18px">2</span><span style="margin-left:-0.21px;letter-spacing:-0.21px">6</span><span style="margin-left:-0.47px;letter-spacing:-0.47px">9</span></div>
<div class="t" style="left:1271.22px;top:1560.85px;font-size:34.60px;line-height:34.60px;font-weight:normal;color:#251d6d;transform:scaleX(0.9804);"><span style="margin-left:-1.21px;letter-spacing:-1.21px">$</span><span style="margin-left:-0.47px;letter-spacing:-0.47px">9</span><span style="margin-left:0.79px;letter-spacing:0.79px">0</span><span style="margin-left:-0.18px;letter-spacing:-0.18px">2</span><span style="margin-left:-0.46px;letter-spacing:-0.46px">,</span><span style="margin-left:0.33px;letter-spacing:0.33px">8</span><span style="margin-left:0.33px;letter-spacing:0.33px">8</span><span style="margin-left:-0.18px;letter-spacing:-0.18px">2</span></div>
<div class="t" style="left:1512.29px;top:1560.85px;font-size:34.60px;line-height:34.60px;font-weight:normal;color:#251d6d;transform:scaleX(0.9503);"><span style="margin-left:-1.21px;letter-spacing:-1.21px">$</span><span style="margin-left:-2.18px;letter-spacing:-2.18px">1</span><span style="margin-left:-0.46px;letter-spacing:-0.46px">,</span><span style="margin-left:0.79px;letter-spacing:0.79px">0</span><span style="margin-left:0.79px;letter-spacing:0.79px">0</span><span style="margin-left:-0.24px;letter-spacing:-0.24px">5</span><span style="margin-left:-0.46px;letter-spacing:-0.46px">,</span><span style="margin-left:0.33px;letter-spacing:0.33px">8</span><span style="margin-left:0.33px;letter-spacing:0.33px">8</span><span style="margin-left:-0.24px;letter-spacing:-0.24px">5</span></div>
<div class="t" style="left:1750.26px;top:1560.85px;font-size:34.60px;line-height:34.60px;font-weight:normal;color:#251d6d;transform:scaleX(1.0001);"><span style="margin-left:0.52px;letter-spacing:0.52px">-</span><span style="margin-left:0.60px;letter-spacing:0.60px">4</span><span style="margin-left:0.38px;letter-spacing:0.38px">.</span><span style="margin-left:0.33px;letter-spacing:0.33px">8</span><span style="margin-left:0.60px;letter-spacing:0.60px">%</span></div>
<div class="t" style="left:2006.90px;top:1560.85px;font-size:34.60px;line-height:34.60px;font-weight:normal;color:#251d6d;transform:scaleX(0.8949);"><span style="margin-left:-2.18px;letter-spacing:-2.18px">1</span><span style="margin-left:-2.18px;letter-spacing:-2.18px">1</span><span style="margin-left:0.38px;letter-spacing:0.38px">.</span><span style="margin-left:0.60px;letter-spacing:0.60px">4</span><span style="margin-left:0.60px;letter-spacing:0.60px">%</span></div>
<div class="t" style="left:251.56px;top:1646.10px;font-size:34.60px;line-height:34.60px;font-weight:normal;color:#251d6d;transform:scaleX(1.0042);">Gisborne</div>
<div class="t" style="left:802.61px;top:1646.10px;font-size:34.60px;line-height:34.60px;font-weight:normal;color:#251d6d;transform:scaleX(0.9699);"><span style="margin-left:-1.21px;letter-spacing:-1.21px">$</span><span style="margin-left:-0.21px;letter-spacing:-0.21px">6</span><span style="margin-left:0.33px;letter-spacing:0.33px">8</span><span style="margin-left:-0.18px;letter-spacing:-0.18px">2</span><span style="margin-left:-0.46px;letter-spacing:-0.46px">,</span><span style="margin-left:-0.18px;letter-spacing:-0.18px">2</span><span style="margin-left:-0.18px;letter-spacing:-0.18px">2</span><span style="margin-left:0.33px;letter-spacing:0.33px">8</span></div>
<div class="t" style="left:1029.70px;top:1646.10px;font-size:34.60px;line-height:34.60px;font-weight:normal;color:#251d6d;transform:scaleX(0.9606);"><span style="margin-left:-1.21px;letter-spacing:-1.21px">$</span><span style="margin-left:-1.09px;letter-spacing:-1.09px">7</span><span style="margin-left:0.79px;letter-spacing:0.79px">0</span><span style="margin-left:-0.47px;letter-spacing:-0.47px">9</span><span style="margin-left:-0.46px;letter-spacing:-0.46px">,</span><span style="margin-left:-0.47px;letter-spacing:-0.47px">9</span><span style="margin-left:-0.21px;letter-spacing:-0.21px">6</span><span style="margin-left:-1.09px;letter-spacing:-1.09px">7</span></div>
<div class="t" style="left:1271.22px;top:1646.10px;font-size:34.60px;line-height:34.60px;font-weight:normal;color:#251d6d;transform:scaleX(0.9812);"><span style="margin-left:-1.21px;letter-spacing:-1.21px">$</span><span style="margin-left:-0.21px;letter-spacing:-0.21px">6</span><span style="margin-left:-0.47px;letter-spacing:-0.47px">9</span><span style="margin-left:0.60px;letter-spacing:0.60px">4</span><span style="margin-left:-0.46px;letter-spacing:-0.46px">,</span><span style="margin-left:-0.24px;letter-spacing:-0.24px">5</span><span style="margin-left:-0.18px;letter-spacing:-0.18px">2</span><span style="margin-left:0.79px;letter-spacing:0.79px">0</span></div>
<div class="t" style="left:1512.27px;top:1646.10px;font-size:34.60px;line-height:34.60px;font-weight:normal;color:#251d6d;transform:scaleX(0.9302);"><span style="margin-left:-1.21px;letter-spacing:-1.21px">$</span><span style="margin-left:-0.21px;letter-spacing:-0.21px">6</span><span style="margin-left:-0.18px;letter-spacing:-0.18px">2</span><span style="margin-left:0.60px;letter-spacing:0.60px">4</span><span style="margin-left:-0.46px;letter-spacing:-0.46px">,</span><span style="margin-left:0.79px;letter-spacing:0.79px">0</span><span style="margin-left:-0.24px;letter-spacing:-0.24px">5</span><span style="margin-left:-2.18px;letter-spacing:-2.18px">1</span></div>
<div class="t" style="left:1750.28px;top:1646.10px;font-size:34.60px;line-height:34.60px;font-weight:normal;color:#251d6d;transform:scaleX(0.9900);"><span style="margin-left:0.52px;letter-spacing:0.52px">-</span><span style="margin-left:0.33px;letter-spacing:0.33px">8</span><span style="margin-left:0.38px;letter-spacing:0.38px">.</span><span style="margin-left:-0.24px;letter-spacing:-0.24px">5</span><span style="margin-left:0.60px;letter-spacing:0.60px">%</span></div>
<div class="t" style="left:2005.47px;top:1646.10px;font-size:34.60px;line-height:34.60px;font-weight:normal;color:#251d6d;transform:scaleX(0.8973);"><span style="margin-left:0.52px;letter-spacing:0.52px">-</span><span style="margin-left:-2.18px;letter-spacing:-2.18px">1</span><span style="margin-left:0.79px;letter-spacing:0.79px">0</span><span style="margin-left:0.38px;letter-spacing:0.38px">.</span><span style="margin-left:-2.18px;letter-spacing:-2.18px">1</span><span style="margin-left:0.60px;letter-spacing:0.60px">%</span></div>
<div class="t" style="left:250.48px;top:1731.35px;font-size:34.60px;line-height:34.60px;font-weight:normal;color:#251d6d;transform:scaleX(0.9956);">Hawke’s Bay</div>
<div class="t" style="left:802.58px;top:1731.35px;font-size:34.60px;line-height:34.60px;font-weight:normal;color:#251d6d;transform:scaleX(0.9391);"><span style="margin-left:-1.21px;letter-spacing:-1.21px">$</span><span style="margin-left:-1.09px;letter-spacing:-1.09px">7</span><span style="margin-left:-0.21px;letter-spacing:-0.21px">6</span><span style="margin-left:0.60px;letter-spacing:0.60px">4</span><span style="margin-left:-0.46px;letter-spacing:-0.46px">,</span><span style="margin-left:0.79px;letter-spacing:0.79px">0</span><span style="margin-left:-2.18px;letter-spacing:-2.18px">1</span><span style="margin-left:0.43px;letter-spacing:0.43px">3</span></div>
<div class="t" style="left:1029.69px;top:1731.35px;font-size:34.60px;line-height:34.60px;font-weight:normal;color:#251d6d;transform:scaleX(0.9426);"><span style="margin-left:-1.21px;letter-spacing:-1.21px">$</span><span style="margin-left:-1.09px;letter-spacing:-1.09px">7</span><span style="margin-left:0.43px;letter-spacing:0.43px">3</span><span style="margin-left:0.43px;letter-spacing:0.43px">3</span><span style="margin-left:-0.46px;letter-spacing:-0.46px">,</span><span style="margin-left:-0.24px;letter-spacing:-0.24px">5</span><span style="margin-left:-2.18px;letter-spacing:-2.18px">1</span><span style="margin-left:-0.21px;letter-spacing:-0.21px">6</span></div>
<div class="t" style="left:1271.21px;top:1731.35px;font-size:34.60px;line-height:34.60px;font-weight:normal;color:#251d6d;transform:scaleX(0.9682);"><span style="margin-left:-1.21px;letter-spacing:-1.21px">$</span><span style="margin-left:-1.09px;letter-spacing:-1.09px">7</span><span style="margin-left:0.33px;letter-spacing:0.33px">8</span><span style="margin-left:0.43px;letter-spacing:0.43px">3</span><span style="margin-left:-0.46px;letter-spacing:-0.46px">,</span><span style="margin-left:0.33px;letter-spacing:0.33px">8</span><span style="margin-left:-0.47px;letter-spacing:-0.47px">9</span><span style="margin-left:-0.24px;letter-spacing:-0.24px">5</span></div>
<div class="t" style="left:1512.31px;top:1731.35px;font-size:34.60px;line-height:34.60px;font-weight:normal;color:#251d6d;transform:scaleX(0.9729);"><span style="margin-left:-1.21px;letter-spacing:-1.21px">$</span><span style="margin-left:-1.09px;letter-spacing:-1.09px">7</span><span style="margin-left:-1.09px;letter-spacing:-1.09px">7</span><span style="margin-left:0.33px;letter-spacing:0.33px">8</span><span style="margin-left:-0.46px;letter-spacing:-0.46px">,</span><span style="margin-left:0.33px;letter-spacing:0.33px">8</span><span style="margin-left:0.33px;letter-spacing:0.33px">8</span><span style="margin-left:0.60px;letter-spacing:0.60px">4</span></div>
<div class="t" style="left:1751.88px;top:1731.35px;font-size:34.60px;line-height:34.60px;font-weight:normal;color:#251d6d;transform:scaleX(0.9295);"><span style="margin-left:-2.18px;letter-spacing:-2.18px">1</span><span style="margin-left:0.38px;letter-spacing:0.38px">.</span><span style="margin-left:-0.47px;letter-spacing:-0.47px">9</span><span style="margin-left:0.60px;letter-spacing:0.60px">%</span></div>
<div class="t" style="left:2005.27px;top:1731.35px;font-size:34.60px;line-height:34.60px;font-weight:normal;color:#251d6d;transform:scaleX(0.9934);"><span style="margin-left:0.52px;letter-spacing:0.52px">-</span><span style="margin-left:0.79px;letter-spacing:0.79px">0</span><span style="margin-left:0.38px;letter-spacing:0.38px">.</span><span style="margin-left:-0.21px;letter-spacing:-0.21px">6</span><span style="margin-left:0.60px;letter-spacing:0.60px">%</span></div>
<div class="t" style="left:250.31px;top:1816.60px;font-size:34.60px;line-height:34.60px;font-weight:normal;color:#251d6d;transform:scaleX(1.0550);">Manawatu / Wanganui</div>
<div class="t" style="left:802.59px;top:1816.60px;font-size:34.60px;line-height:34.60px;font-weight:normal;color:#251d6d;transform:scaleX(0.9469);"><span style="margin-left:-1.21px;letter-spacing:-1.21px">$</span><span style="margin-left:-0.21px;letter-spacing:-0.21px">6</span><span style="margin-left:0.79px;letter-spacing:0.79px">0</span><span style="margin-left:-2.18px;letter-spacing:-2.18px">1</span><span style="margin-left:-0.46px;letter-spacing:-0.46px">,</span><span style="margin-left:0.79px;letter-spacing:0.79px">0</span><span style="margin-left:0.43px;letter-spacing:0.43px">3</span><span style="margin-left:-0.21px;letter-spacing:-0.21px">6</span></div>
<div class="t" style="left:1029.70px;top:1816.60px;font-size:34.60px;line-height:34.60px;font-weight:normal;color:#251d6d;transform:scaleX(0.9608);"><span style="margin-left:-1.21px;letter-spacing:-1.21px">$</span><span style="margin-left:-0.21px;letter-spacing:-0.21px">6</span><span style="margin-left:-0.18px;letter-spacing:-0.18px">2</span><span style="margin-left:0.60px;letter-spacing:0.60px">4</span><span style="margin-left:-0.46px;letter-spacing:-0.46px">,</span><span style="margin-left:0.79px;letter-spacing:0.79px">0</span><span style="margin-left:-1.09px;letter-spacing:-1.09px">7</span><span style="margin-left:-0.21px;letter-spacing:-0.21px">6</span></div>
<div class="t" style="left:1271.21px;top:1816.60px;font-size:34.60px;line-height:34.60px;font-weight:normal;color:#251d6d;transform:scaleX(0.9762);"><span style="margin-left:-1.21px;letter-spacing:-1.21px">$</span><span style="margin-left:-0.21px;letter-spacing:-0.21px">6</span><span style="margin-left:0.79px;letter-spacing:0.79px">0</span><span style="margin-left:-0.21px;letter-spacing:-0.21px">6</span><span style="margin-left:-0.46px;letter-spacing:-0.46px">,</span><span style="margin-left:-0.24px;letter-spacing:-0.24px">5</span><span style="margin-left:0.33px;letter-spacing:0.33px">8</span><span style="margin-left:-0.21px;letter-spacing:-0.21px">6</span></div>
<div class="t" style="left:1512.27px;top:1816.60px;font-size:34.60px;line-height:34.60px;font-weight:normal;color:#251d6d;transform:scaleX(0.9236);"><span style="margin-left:-1.21px;letter-spacing:-1.21px">$</span><span style="margin-left:-0.21px;letter-spacing:-0.21px">6</span><span style="margin-left:-2.18px;letter-spacing:-2.18px">1</span><span style="margin-left:-1.09px;letter-spacing:-1.09px">7</span><span style="margin-left:-0.46px;letter-spacing:-0.46px">,</span><span style="margin-left:0.79px;letter-spacing:0.79px">0</span><span style="margin-left:0.43px;letter-spacing:0.43px">3</span><span style="margin-left:-0.24px;letter-spacing:-0.24px">5</span></div>
<div class="t" style="left:1750.76px;top:1816.60px;font-size:34.60px;line-height:34.60px;font-weight:normal;color:#251d6d;transform:scaleX(0.9876);"><span style="margin-left:-0.18px;letter-spacing:-0.18px">2</span><span style="margin-left:0.38px;letter-spacing:0.38px">.</span><span style="margin-left:-1.09px;letter-spacing:-1.09px">7</span><span style="margin-left:0.60px;letter-spacing:0.60px">%</span></div>
<div class="t" style="left:2006.89px;top:1816.60px;font-size:34.60px;line-height:34.60px;font-weight:normal;color:#251d6d;transform:scaleX(0.9164);"><span style="margin-left:-2.18px;letter-spacing:-2.18px">1</span><span style="margin-left:0.38px;letter-spacing:0.38px">.</span><span style="margin-left:-1.09px;letter-spacing:-1.09px">7</span><span style="margin-left:0.60px;letter-spacing:0.60px">%</span></div>
<div class="t" style="left:250.29px;top:1901.85px;font-size:34.60px;line-height:34.60px;font-weight:normal;color:#251d6d;transform:scaleX(1.0615);">Marlborough</div>
<div class="t" style="left:802.58px;top:1901.85px;font-size:34.60px;line-height:34.60px;font-weight:normal;color:#251d6d;transform:scaleX(0.9328);"><span style="margin-left:-1.21px;letter-spacing:-1.21px">$</span><span style="margin-left:-1.09px;letter-spacing:-1.09px">7</span><span style="margin-left:-0.21px;letter-spacing:-0.21px">6</span><span style="margin-left:0.79px;letter-spacing:0.79px">0</span><span style="margin-left:-0.46px;letter-spacing:-0.46px">,</span><span style="margin-left:-0.24px;letter-spacing:-0.24px">5</span><span style="margin-left:-2.18px;letter-spacing:-2.18px">1</span><span style="margin-left:-0.24px;letter-spacing:-0.24px">5</span></div>
<div class="t" style="left:1029.71px;top:1901.85px;font-size:34.60px;line-height:34.60px;font-weight:normal;color:#251d6d;transform:scaleX(0.9693);"><span style="margin-left:-1.21px;letter-spacing:-1.21px">$</span><span style="margin-left:0.33px;letter-spacing:0.33px">8</span><span style="margin-left:0.43px;letter-spacing:0.43px">3</span><span style="margin-left:-0.18px;letter-spacing:-0.18px">2</span><span style="margin-left:-0.46px;letter-spacing:-0.46px">,</span><span style="margin-left:0.43px;letter-spacing:0.43px">3</span><span style="margin-left:0.79px;letter-spacing:0.79px">0</span><span style="margin-left:-0.47px;letter-spacing:-0.47px">9</span></div>
<div class="t" style="left:1271.22px;top:1901.85px;font-size:34.60px;line-height:34.60px;font-weight:normal;color:#251d6d;transform:scaleX(0.9842);"><span style="margin-left:-1.21px;letter-spacing:-1.21px">$</span><span style="margin-left:-1.09px;letter-spacing:-1.09px">7</span><span style="margin-left:-0.24px;letter-spacing:-0.24px">5</span><span style="margin-left:-0.24px;letter-spacing:-0.24px">5</span><span style="margin-left:-0.46px;letter-spacing:-0.46px">,</span><span style="margin-left:-0.47px;letter-spacing:-0.47px">9</span><span style="margin-left:0.43px;letter-spacing:0.43px">3</span><span style="margin-left:0.79px;letter-spacing:0.79px">0</span></div>
<div class="t" style="left:1512.30px;top:1901.85px;font-size:34.60px;line-height:34.60px;font-weight:normal;color:#251d6d;transform:scaleX(0.9656);"><span style="margin-left:-1.21px;letter-spacing:-1.21px">$</span><span style="margin-left:0.33px;letter-spacing:0.33px">8</span><span style="margin-left:0.43px;letter-spacing:0.43px">3</span><span style="margin-left:-0.21px;letter-spacing:-0.21px">6</span><span style="margin-left:-0.46px;letter-spacing:-0.46px">,</span><span style="margin-left:-1.09px;letter-spacing:-1.09px">7</span><span style="margin-left:0.60px;letter-spacing:0.60px">4</span><span style="margin-left:0.33px;letter-spacing:0.33px">8</span></div>
<div class="t" style="left:1751.88px;top:1901.85px;font-size:34.60px;line-height:34.60px;font-weight:normal;color:#251d6d;transform:scaleX(0.9346);"><span style="margin-left:-2.18px;letter-spacing:-2.18px">1</span><span style="margin-left:0.79px;letter-spacing:0.79px">0</span><span style="margin-left:0.38px;letter-spacing:0.38px">.</span><span style="margin-left:0.79px;letter-spacing:0.79px">0</span><span style="margin-left:0.60px;letter-spacing:0.60px">%</span></div>
<div class="t" style="left:2006.88px;top:1901.85px;font-size:34.60px;line-height:34.60px;font-weight:normal;color:#251d6d;transform:scaleX(0.9381);"><span style="margin-left:-2.18px;letter-spacing:-2.18px">1</span><span style="margin-left:0.79px;letter-spacing:0.79px">0</span><span style="margin-left:0.38px;letter-spacing:0.38px">.</span><span style="margin-left:-1.09px;letter-spacing:-1.09px">7</span><span style="margin-left:0.60px;letter-spacing:0.60px">%</span></div>
<div class="t" style="left:250.48px;top:1987.10px;font-size:34.60px;line-height:34.60px;font-weight:normal;color:#251d6d;transform:scaleX(0.9948);">Nelson &amp; Bays</div>
<div class="t" style="left:802.56px;top:1987.10px;font-size:34.60px;line-height:34.60px;font-weight:normal;color:#251d6d;transform:scaleX(0.9165);"><span style="margin-left:-1.21px;letter-spacing:-1.21px">$</span><span style="margin-left:0.33px;letter-spacing:0.33px">8</span><span style="margin-left:-1.09px;letter-spacing:-1.09px">7</span><span style="margin-left:0.60px;letter-spacing:0.60px">4</span><span style="margin-left:-0.46px;letter-spacing:-0.46px">,</span><span style="margin-left:0.60px;letter-spacing:0.60px">4</span><span style="margin-left:-1.09px;letter-spacing:-1.09px">7</span><span style="margin-left:-2.18px;letter-spacing:-2.18px">1</span></div>
<div class="t" style="left:1029.71px;top:1987.10px;font-size:34.60px;line-height:34.60px;font-weight:normal;color:#251d6d;transform:scaleX(0.9709);"><span style="margin-left:-1.21px;letter-spacing:-1.21px">$</span><span style="margin-left:0.33px;letter-spacing:0.33px">8</span><span style="margin-left:-0.24px;letter-spacing:-0.24px">5</span><span style="margin-left:-0.21px;letter-spacing:-0.21px">6</span><span style="margin-left:-0.46px;letter-spacing:-0.46px">,</span><span style="margin-left:-0.47px;letter-spacing:-0.47px">9</span><span style="margin-left:0.43px;letter-spacing:0.43px">3</span><span style="margin-left:-0.47px;letter-spacing:-0.47px">9</span></div>
<div class="t" style="left:1271.19px;top:1987.10px;font-size:34.60px;line-height:34.60px;font-weight:normal;color:#251d6d;transform:scaleX(0.9437);"><span style="margin-left:-1.21px;letter-spacing:-1.21px">$</span><span style="margin-left:0.33px;letter-spacing:0.33px">8</span><span style="margin-left:-0.24px;letter-spacing:-0.24px">5</span><span style="margin-left:0.79px;letter-spacing:0.79px">0</span><span style="margin-left:-0.46px;letter-spacing:-0.46px">,</span><span style="margin-left:-2.18px;letter-spacing:-2.18px">1</span><span style="margin-left:-0.21px;letter-spacing:-0.21px">6</span><span style="margin-left:0.43px;letter-spacing:0.43px">3</span></div>
<div class="t" style="left:1512.28px;top:1987.10px;font-size:34.60px;line-height:34.60px;font-weight:normal;color:#251d6d;transform:scaleX(0.9350);"><span style="margin-left:-1.21px;letter-spacing:-1.21px">$</span><span style="margin-left:0.33px;letter-spacing:0.33px">8</span><span style="margin-left:-0.21px;letter-spacing:-0.21px">6</span><span style="margin-left:-0.24px;letter-spacing:-0.24px">5</span><span style="margin-left:-0.46px;letter-spacing:-0.46px">,</span><span style="margin-left:-2.18px;letter-spacing:-2.18px">1</span><span style="margin-left:-0.18px;letter-spacing:-0.18px">2</span><span style="margin-left:-0.21px;letter-spacing:-0.21px">6</span></div>
<div class="t" style="left:1750.52px;top:1987.10px;font-size:34.60px;line-height:34.60px;font-weight:normal;color:#251d6d;transform:scaleX(0.8712);"><span style="margin-left:0.52px;letter-spacing:0.52px">-</span><span style="margin-left:-2.18px;letter-spacing:-2.18px">1</span><span style="margin-left:0.38px;letter-spacing:0.38px">.</span><span style="margin-left:-2.18px;letter-spacing:-2.18px">1</span><span style="margin-left:0.60px;letter-spacing:0.60px">%</span></div>
<div class="t" style="left:2006.89px;top:1987.10px;font-size:34.60px;line-height:34.60px;font-weight:normal;color:#251d6d;transform:scaleX(0.9071);"><span style="margin-left:-2.18px;letter-spacing:-2.18px">1</span><span style="margin-left:0.38px;letter-spacing:0.38px">.</span><span style="margin-left:0.33px;letter-spacing:0.33px">8</span><span style="margin-left:0.60px;letter-spacing:0.60px">%</span></div>
<div class="t" style="left:250.23px;top:2072.35px;font-size:34.60px;line-height:34.60px;font-weight:normal;color:#251d6d;transform:scaleX(1.0836);">Northland</div>
<div class="t" style="left:802.59px;top:2072.35px;font-size:34.60px;line-height:34.60px;font-weight:normal;color:#251d6d;transform:scaleX(0.9529);"><span style="margin-left:-1.21px;letter-spacing:-1.21px">$</span><span style="margin-left:0.33px;letter-spacing:0.33px">8</span><span style="margin-left:-0.21px;letter-spacing:-0.21px">6</span><span style="margin-left:-0.24px;letter-spacing:-0.24px">5</span><span style="margin-left:-0.46px;letter-spacing:-0.46px">,</span><span style="margin-left:0.33px;letter-spacing:0.33px">8</span><span style="margin-left:-2.18px;letter-spacing:-2.18px">1</span><span style="margin-left:0.79px;letter-spacing:0.79px">0</span></div>
<div class="t" style="left:1029.67px;top:2072.35px;font-size:34.60px;line-height:34.60px;font-weight:normal;color:#251d6d;transform:scaleX(0.9221);"><span style="margin-left:-1.21px;letter-spacing:-1.21px">$</span><span style="margin-left:-1.09px;letter-spacing:-1.09px">7</span><span style="margin-left:-0.21px;letter-spacing:-0.21px">6</span><span style="margin-left:-0.21px;letter-spacing:-0.21px">6</span><span style="margin-left:-0.46px;letter-spacing:-0.46px">,</span><span style="margin-left:-2.18px;letter-spacing:-2.18px">1</span><span style="margin-left:-0.21px;letter-spacing:-0.21px">6</span><span style="margin-left:-0.47px;letter-spacing:-0.47px">9</span></div>
<div class="t" style="left:1271.18px;top:2072.35px;font-size:34.60px;line-height:34.60px;font-weight:normal;color:#251d6d;transform:scaleX(0.9400);"><span style="margin-left:-1.21px;letter-spacing:-1.21px">$</span><span style="margin-left:0.33px;letter-spacing:0.33px">8</span><span style="margin-left:-2.18px;letter-spacing:-2.18px">1</span><span style="margin-left:0.43px;letter-spacing:0.43px">3</span><span style="margin-left:-0.46px;letter-spacing:-0.46px">,</span><span style="margin-left:0.79px;letter-spacing:0.79px">0</span><span style="margin-left:0.33px;letter-spacing:0.33px">8</span><span style="margin-left:-0.24px;letter-spacing:-0.24px">5</span></div>
<div class="t" style="left:1512.32px;top:2072.35px;font-size:34.60px;line-height:34.60px;font-weight:normal;color:#251d6d;transform:scaleX(0.9833);"><span style="margin-left:-1.21px;letter-spacing:-1.21px">$</span><span style="margin-left:0.33px;letter-spacing:0.33px">8</span><span style="margin-left:-0.47px;letter-spacing:-0.47px">9</span><span style="margin-left:0.33px;letter-spacing:0.33px">8</span><span style="margin-left:-0.46px;letter-spacing:-0.46px">,</span><span style="margin-left:-1.09px;letter-spacing:-1.09px">7</span><span style="margin-left:-1.09px;letter-spacing:-1.09px">7</span><span style="margin-left:-1.09px;letter-spacing:-1.09px">7</span></div>
<div class="t" style="left:1750.59px;top:2072.35px;font-size:34.60px;line-height:34.60px;font-weight:normal;color:#251d6d;transform:scaleX(0.9786);"><span style="margin-left:0.43px;letter-spacing:0.43px">3</span><span style="margin-left:0.38px;letter-spacing:0.38px">.</span><span style="margin-left:0.33px;letter-spacing:0.33px">8</span><span style="margin-left:0.60px;letter-spacing:0.60px">%</span></div>
<div class="t" style="left:2006.88px;top:2072.35px;font-size:34.60px;line-height:34.60px;font-weight:normal;color:#251d6d;transform:scaleX(0.9350);"><span style="margin-left:-2.18px;letter-spacing:-2.18px">1</span><span style="margin-left:0.79px;letter-spacing:0.79px">0</span><span style="margin-left:0.38px;letter-spacing:0.38px">.</span><span style="margin-left:-0.24px;letter-spacing:-0.24px">5</span><span style="margin-left:0.60px;letter-spacing:0.60px">%</span></div>
<div class="t" style="left:251.51px;top:2157.60px;font-size:34.60px;line-height:34.60px;font-weight:normal;color:#251d6d;transform:scaleX(1.0979);">Otago</div>
<div class="t" style="left:802.59px;top:2157.60px;font-size:34.60px;line-height:34.60px;font-weight:normal;color:#251d6d;transform:scaleX(0.9480);"><span style="margin-left:-1.21px;letter-spacing:-1.21px">$</span><span style="margin-left:-0.21px;letter-spacing:-0.21px">6</span><span style="margin-left:-2.18px;letter-spacing:-2.18px">1</span><span style="margin-left:0.43px;letter-spacing:0.43px">3</span><span style="margin-left:-0.46px;letter-spacing:-0.46px">,</span><span style="margin-left:0.33px;letter-spacing:0.33px">8</span><span style="margin-left:0.43px;letter-spacing:0.43px">3</span><span style="margin-left:0.79px;letter-spacing:0.79px">0</span></div>
<div class="t" style="left:1029.71px;top:2157.60px;font-size:34.60px;line-height:34.60px;font-weight:normal;color:#251d6d;transform:scaleX(0.9766);"><span style="margin-left:-1.21px;letter-spacing:-1.21px">$</span><span style="margin-left:-0.21px;letter-spacing:-0.21px">6</span><span style="margin-left:0.43px;letter-spacing:0.43px">3</span><span style="margin-left:-0.18px;letter-spacing:-0.18px">2</span><span style="margin-left:-0.46px;letter-spacing:-0.46px">,</span><span style="margin-left:0.33px;letter-spacing:0.33px">8</span><span style="margin-left:-0.47px;letter-spacing:-0.47px">9</span><span style="margin-left:0.43px;letter-spacing:0.43px">3</span></div>
<div class="t" style="left:1271.19px;top:2157.60px;font-size:34.60px;line-height:34.60px;font-weight:normal;color:#251d6d;transform:scaleX(0.9517);"><span style="margin-left:-1.21px;letter-spacing:-1.21px">$</span><span style="margin-left:-0.21px;letter-spacing:-0.21px">6</span><span style="margin-left:-2.18px;letter-spacing:-2.18px">1</span><span style="margin-left:-0.21px;letter-spacing:-0.21px">6</span><span style="margin-left:-0.46px;letter-spacing:-0.46px">,</span><span style="margin-left:0.79px;letter-spacing:0.79px">0</span><span style="margin-left:0.33px;letter-spacing:0.33px">8</span><span style="margin-left:-0.18px;letter-spacing:-0.18px">2</span></div>
<div class="t" style="left:1512.30px;top:2157.60px;font-size:34.60px;line-height:34.60px;font-weight:normal;color:#251d6d;transform:scaleX(0.9618);"><span style="margin-left:-1.21px;letter-spacing:-1.21px">$</span><span style="margin-left:-0.24px;letter-spacing:-0.24px">5</span><span style="margin-left:-0.47px;letter-spacing:-0.47px">9</span><span style="margin-left:-1.09px;letter-spacing:-1.09px">7</span><span style="margin-left:-0.46px;letter-spacing:-0.46px">,</span><span style="margin-left:-0.21px;letter-spacing:-0.21px">6</span><span style="margin-left:-0.24px;letter-spacing:-0.24px">5</span><span style="margin-left:-1.09px;letter-spacing:-1.09px">7</span></div>
<div class="t" style="left:1750.29px;top:2157.60px;font-size:34.60px;line-height:34.60px;font-weight:normal;color:#251d6d;transform:scaleX(0.9858);"><span style="margin-left:0.52px;letter-spacing:0.52px">-</span><span style="margin-left:-0.18px;letter-spacing:-0.18px">2</span><span style="margin-left:0.38px;letter-spacing:0.38px">.</span><span style="margin-left:-0.21px;letter-spacing:-0.21px">6</span><span style="margin-left:0.60px;letter-spacing:0.60px">%</span></div>
<div class="t" style="left:2005.28px;top:2157.60px;font-size:34.60px;line-height:34.60px;font-weight:normal;color:#251d6d;transform:scaleX(0.9893);"><span style="margin-left:0.52px;letter-spacing:0.52px">-</span><span style="margin-left:0.43px;letter-spacing:0.43px">3</span><span style="margin-left:0.38px;letter-spacing:0.38px">.</span><span style="margin-left:0.79px;letter-spacing:0.79px">0</span><span style="margin-left:0.60px;letter-spacing:0.60px">%</span></div>
<div class="t" style="left:251.69px;top:2242.85px;font-size:34.60px;line-height:34.60px;font-weight:normal;color:#251d6d;transform:scaleX(1.0311);">Southland</div>
<div class="t" style="left:802.60px;top:2242.85px;font-size:34.60px;line-height:34.60px;font-weight:normal;color:#251d6d;transform:scaleX(0.9644);"><span style="margin-left:-1.21px;letter-spacing:-1.21px">$</span><span style="margin-left:-0.24px;letter-spacing:-0.24px">5</span><span style="margin-left:-0.18px;letter-spacing:-0.18px">2</span><span style="margin-left:-1.09px;letter-spacing:-1.09px">7</span><span style="margin-left:-0.46px;letter-spacing:-0.46px">,</span><span style="margin-left:-1.09px;letter-spacing:-1.09px">7</span><span style="margin-left:0.79px;letter-spacing:0.79px">0</span><span style="margin-left:-0.24px;letter-spacing:-0.24px">5</span></div>
<div class="t" style="left:1029.71px;top:2242.85px;font-size:34.60px;line-height:34.60px;font-weight:normal;color:#251d6d;transform:scaleX(0.9757);"><span style="margin-left:-1.21px;letter-spacing:-1.21px">$</span><span style="margin-left:-0.24px;letter-spacing:-0.24px">5</span><span style="margin-left:-0.18px;letter-spacing:-0.18px">2</span><span style="margin-left:0.79px;letter-spacing:0.79px">0</span><span style="margin-left:-0.46px;letter-spacing:-0.46px">,</span><span style="margin-left:0.33px;letter-spacing:0.33px">8</span><span style="margin-left:-0.18px;letter-spacing:-0.18px">2</span><span style="margin-left:0.43px;letter-spacing:0.43px">3</span></div>
<div class="t" style="left:1271.20px;top:2242.85px;font-size:34.60px;line-height:34.60px;font-weight:normal;color:#251d6d;transform:scaleX(0.9557);"><span style="margin-left:-1.21px;letter-spacing:-1.21px">$</span><span style="margin-left:-0.24px;letter-spacing:-0.24px">5</span><span style="margin-left:-0.24px;letter-spacing:-0.24px">5</span><span style="margin-left:-1.09px;letter-spacing:-1.09px">7</span><span style="margin-left:-0.46px;letter-spacing:-0.46px">,</span><span style="margin-left:0.79px;letter-spacing:0.79px">0</span><span style="margin-left:-1.09px;letter-spacing:-1.09px">7</span><span style="margin-left:-0.47px;letter-spacing:-0.47px">9</span></div>
<div class="t" style="left:1512.23px;top:2242.85px;font-size:34.60px;line-height:34.60px;font-weight:normal;color:#251d6d;transform:scaleX(0.8769);"><span style="margin-left:-1.21px;letter-spacing:-1.21px">$</span><span style="margin-left:-0.24px;letter-spacing:-0.24px">5</span><span style="margin-left:-0.18px;letter-spacing:-0.18px">2</span><span style="margin-left:-1.09px;letter-spacing:-1.09px">7</span><span style="margin-left:-0.46px;letter-spacing:-0.46px">,</span><span style="margin-left:0.43px;letter-spacing:0.43px">3</span><span style="margin-left:-2.18px;letter-spacing:-2.18px">1</span><span style="margin-left:-2.18px;letter-spacing:-2.18px">1</span></div>
<div class="t" style="left:1750.38px;top:2242.85px;font-size:34.60px;line-height:34.60px;font-weight:normal;color:#251d6d;transform:scaleX(0.9406);"><span style="margin-left:0.52px;letter-spacing:0.52px">-</span><span style="margin-left:0.79px;letter-spacing:0.79px">0</span><span style="margin-left:0.38px;letter-spacing:0.38px">.</span><span style="margin-left:-2.18px;letter-spacing:-2.18px">1</span><span style="margin-left:0.60px;letter-spacing:0.60px">%</span></div>
<div class="t" style="left:2005.27px;top:2242.85px;font-size:34.60px;line-height:34.60px;font-weight:normal;color:#251d6d;transform:scaleX(0.9966);"><span style="margin-left:0.52px;letter-spacing:0.52px">-</span><span style="margin-left:-0.24px;letter-spacing:-0.24px">5</span><span style="margin-left:0.38px;letter-spacing:0.38px">.</span><span style="margin-left:0.43px;letter-spacing:0.43px">3</span><span style="margin-left:0.60px;letter-spacing:0.60px">%</span></div>
<div class="t" style="left:252.50px;top:2328.10px;font-size:34.60px;line-height:34.60px;font-weight:normal;color:#251d6d;transform:scaleX(1.0493);">Taranaki</div>
<div class="t" style="left:802.61px;top:2328.10px;font-size:34.60px;line-height:34.60px;font-weight:normal;color:#251d6d;transform:scaleX(0.9680);"><span style="margin-left:-1.21px;letter-spacing:-1.21px">$</span><span style="margin-left:-0.21px;letter-spacing:-0.21px">6</span><span style="margin-left:0.43px;letter-spacing:0.43px">3</span><span style="margin-left:-0.18px;letter-spacing:-0.18px">2</span><span style="margin-left:-0.46px;letter-spacing:-0.46px">,</span><span style="margin-left:0.33px;letter-spacing:0.33px">8</span><span style="margin-left:-1.09px;letter-spacing:-1.09px">7</span><span style="margin-left:-0.24px;letter-spacing:-0.24px">5</span></div>
<div class="t" style="left:1029.70px;top:2328.10px;font-size:34.60px;line-height:34.60px;font-weight:normal;color:#251d6d;transform:scaleX(0.9610);"><span style="margin-left:-1.21px;letter-spacing:-1.21px">$</span><span style="margin-left:-0.21px;letter-spacing:-0.21px">6</span><span style="margin-left:-0.21px;letter-spacing:-0.21px">6</span><span style="margin-left:-0.47px;letter-spacing:-0.47px">9</span><span style="margin-left:-0.46px;letter-spacing:-0.46px">,</span><span style="margin-left:-0.47px;letter-spacing:-0.47px">9</span><span style="margin-left:-0.21px;letter-spacing:-0.21px">6</span><span style="margin-left:-0.24px;letter-spacing:-0.24px">5</span></div>
<div class="t" style="left:1271.20px;top:2328.10px;font-size:34.60px;line-height:34.60px;font-weight:normal;color:#251d6d;transform:scaleX(0.9635);"><span style="margin-left:-1.21px;letter-spacing:-1.21px">$</span><span style="margin-left:-0.21px;letter-spacing:-0.21px">6</span><span style="margin-left:-0.24px;letter-spacing:-0.24px">5</span><span style="margin-left:-0.47px;letter-spacing:-0.47px">9</span><span style="margin-left:-0.46px;letter-spacing:-0.46px">,</span><span style="margin-left:0.33px;letter-spacing:0.33px">8</span><span style="margin-left:0.79px;letter-spacing:0.79px">0</span><span style="margin-left:0.60px;letter-spacing:0.60px">4</span></div>
<div class="t" style="left:1512.31px;top:2328.10px;font-size:34.60px;line-height:34.60px;font-weight:normal;color:#251d6d;transform:scaleX(0.9757);"><span style="margin-left:-1.21px;letter-spacing:-1.21px">$</span><span style="margin-left:-0.21px;letter-spacing:-0.21px">6</span><span style="margin-left:0.43px;letter-spacing:0.43px">3</span><span style="margin-left:-0.21px;letter-spacing:-0.21px">6</span><span style="margin-left:-0.46px;letter-spacing:-0.46px">,</span><span style="margin-left:-1.09px;letter-spacing:-1.09px">7</span><span style="margin-left:-0.24px;letter-spacing:-0.24px">5</span><span style="margin-left:-1.09px;letter-spacing:-1.09px">7</span></div>
<div class="t" style="left:1750.18px;top:2328.10px;font-size:34.60px;line-height:34.60px;font-weight:normal;color:#251d6d;transform:scaleX(0.9880);"><span style="margin-left:0.79px;letter-spacing:0.79px">0</span><span style="margin-left:0.38px;letter-spacing:0.38px">.</span><span style="margin-left:-0.21px;letter-spacing:-0.21px">6</span><span style="margin-left:0.60px;letter-spacing:0.60px">%</span></div>
<div class="t" style="left:2005.27px;top:2328.10px;font-size:34.60px;line-height:34.60px;font-weight:normal;color:#251d6d;transform:scaleX(0.9966);"><span style="margin-left:0.52px;letter-spacing:0.52px">-</span><span style="margin-left:0.43px;letter-spacing:0.43px">3</span><span style="margin-left:0.38px;letter-spacing:0.38px">.</span><span style="margin-left:-0.24px;letter-spacing:-0.24px">5</span><span style="margin-left:0.60px;letter-spacing:0.60px">%</span></div>
<div class="t" style="left:253.16px;top:2413.35px;font-size:34.60px;line-height:34.60px;font-weight:normal;color:#251d6d;transform:scaleX(1.0467);">Waikato</div>
<div class="t" style="left:802.59px;top:2413.35px;font-size:34.60px;line-height:34.60px;font-weight:normal;color:#251d6d;transform:scaleX(0.9466);"><span style="margin-left:-1.21px;letter-spacing:-1.21px">$</span><span style="margin-left:0.33px;letter-spacing:0.33px">8</span><span style="margin-left:-2.18px;letter-spacing:-2.18px">1</span><span style="margin-left:0.60px;letter-spacing:0.60px">4</span><span style="margin-left:-0.46px;letter-spacing:-0.46px">,</span><span style="margin-left:-0.18px;letter-spacing:-0.18px">2</span><span style="margin-left:-0.18px;letter-spacing:-0.18px">2</span><span style="margin-left:0.60px;letter-spacing:0.60px">4</span></div>
<div class="t" style="left:1029.69px;top:2413.35px;font-size:34.60px;line-height:34.60px;font-weight:normal;color:#251d6d;transform:scaleX(0.9434);"><span style="margin-left:-1.21px;letter-spacing:-1.21px">$</span><span style="margin-left:-1.09px;letter-spacing:-1.09px">7</span><span style="margin-left:0.33px;letter-spacing:0.33px">8</span><span style="margin-left:-0.18px;letter-spacing:-0.18px">2</span><span style="margin-left:-0.46px;letter-spacing:-0.46px">,</span><span style="margin-left:-1.09px;letter-spacing:-1.09px">7</span><span style="margin-left:-2.18px;letter-spacing:-2.18px">1</span><span style="margin-left:-0.24px;letter-spacing:-0.24px">5</span></div>
<div class="t" style="left:1271.19px;top:2413.35px;font-size:34.60px;line-height:34.60px;font-weight:normal;color:#251d6d;transform:scaleX(0.9456);"><span style="margin-left:-1.21px;letter-spacing:-1.21px">$</span><span style="margin-left:-1.09px;letter-spacing:-1.09px">7</span><span style="margin-left:0.33px;letter-spacing:0.33px">8</span><span style="margin-left:-0.18px;letter-spacing:-0.18px">2</span><span style="margin-left:-0.46px;letter-spacing:-0.46px">,</span><span style="margin-left:-2.18px;letter-spacing:-2.18px">1</span><span style="margin-left:-0.18px;letter-spacing:-0.18px">2</span><span style="margin-left:0.79px;letter-spacing:0.79px">0</span></div>
<div class="t" style="left:1512.28px;top:2413.35px;font-size:34.60px;line-height:34.60px;font-weight:normal;color:#251d6d;transform:scaleX(0.9378);"><span style="margin-left:-1.21px;letter-spacing:-1.21px">$</span><span style="margin-left:0.33px;letter-spacing:0.33px">8</span><span style="margin-left:0.79px;letter-spacing:0.79px">0</span><span style="margin-left:0.33px;letter-spacing:0.33px">8</span><span style="margin-left:-0.46px;letter-spacing:-0.46px">,</span><span style="margin-left:-2.18px;letter-spacing:-2.18px">1</span><span style="margin-left:-0.24px;letter-spacing:-0.24px">5</span><span style="margin-left:0.43px;letter-spacing:0.43px">3</span></div>
<div class="t" style="left:1750.27px;top:2413.35px;font-size:34.60px;line-height:34.60px;font-weight:normal;color:#251d6d;transform:scaleX(0.9928);"><span style="margin-left:0.52px;letter-spacing:0.52px">-</span><span style="margin-left:0.79px;letter-spacing:0.79px">0</span><span style="margin-left:0.38px;letter-spacing:0.38px">.</span><span style="margin-left:-1.09px;letter-spacing:-1.09px">7</span><span style="margin-left:0.60px;letter-spacing:0.60px">%</span></div>
<div class="t" style="left:2005.59px;top:2413.35px;font-size:34.60px;line-height:34.60px;font-weight:normal;color:#251d6d;transform:scaleX(0.9786);"><span style="margin-left:0.43px;letter-spacing:0.43px">3</span><span style="margin-left:0.38px;letter-spacing:0.38px">.</span><span style="margin-left:0.43px;letter-spacing:0.43px">3</span><span style="margin-left:0.60px;letter-spacing:0.60px">%</span></div>
<div class="t" style="left:253.16px;top:2498.60px;font-size:34.60px;line-height:34.60px;font-weight:normal;color:#251d6d;transform:scaleX(1.0399);">Wairarapa</div>
<div class="t" style="left:802.60px;top:2498.60px;font-size:34.60px;line-height:34.60px;font-weight:normal;color:#251d6d;transform:scaleX(0.9612);"><span style="margin-left:-1.21px;letter-spacing:-1.21px">$</span><span style="margin-left:-1.09px;letter-spacing:-1.09px">7</span><span style="margin-left:0.60px;letter-spacing:0.60px">4</span><span style="margin-left:-0.24px;letter-spacing:-0.24px">5</span><span style="margin-left:-0.46px;letter-spacing:-0.46px">,</span><span style="margin-left:0.43px;letter-spacing:0.43px">3</span><span style="margin-left:0.33px;letter-spacing:0.33px">8</span><span style="margin-left:-0.18px;letter-spacing:-0.18px">2</span></div>
<div class="t" style="left:1029.65px;top:2498.60px;font-size:34.60px;line-height:34.60px;font-weight:normal;color:#251d6d;transform:scaleX(0.8986);"><span style="margin-left:-1.21px;letter-spacing:-1.21px">$</span><span style="margin-left:-1.09px;letter-spacing:-1.09px">7</span><span style="margin-left:0.43px;letter-spacing:0.43px">3</span><span style="margin-left:-2.18px;letter-spacing:-2.18px">1</span><span style="margin-left:-0.46px;letter-spacing:-0.46px">,</span><span style="margin-left:-0.47px;letter-spacing:-0.47px">9</span><span style="margin-left:-1.09px;letter-spacing:-1.09px">7</span><span style="margin-left:-2.18px;letter-spacing:-2.18px">1</span></div>
<div class="t" style="left:1271.19px;top:2498.60px;font-size:34.60px;line-height:34.60px;font-weight:normal;color:#251d6d;transform:scaleX(0.9458);"><span style="margin-left:-1.21px;letter-spacing:-1.21px">$</span><span style="margin-left:-1.09px;letter-spacing:-1.09px">7</span><span style="margin-left:-0.21px;letter-spacing:-0.21px">6</span><span style="margin-left:-1.09px;letter-spacing:-1.09px">7</span><span style="margin-left:-0.46px;letter-spacing:-0.46px">,</span><span style="margin-left:-0.47px;letter-spacing:-0.47px">9</span><span style="margin-left:0.43px;letter-spacing:0.43px">3</span><span style="margin-left:0.33px;letter-spacing:0.33px">8</span></div>
<div class="t" style="left:1512.27px;top:2498.60px;font-size:34.60px;line-height:34.60px;font-weight:normal;color:#251d6d;transform:scaleX(0.9185);"><span style="margin-left:-1.21px;letter-spacing:-1.21px">$</span><span style="margin-left:-1.09px;letter-spacing:-1.09px">7</span><span style="margin-left:-0.18px;letter-spacing:-0.18px">2</span><span style="margin-left:0.43px;letter-spacing:0.43px">3</span><span style="margin-left:-0.46px;letter-spacing:-0.46px">,</span><span style="margin-left:-2.18px;letter-spacing:-2.18px">1</span><span style="margin-left:-2.18px;letter-spacing:-2.18px">1</span><span style="margin-left:0.33px;letter-spacing:0.33px">8</span></div>
<div class="t" style="left:1750.27px;top:2498.60px;font-size:34.60px;line-height:34.60px;font-weight:normal;color:#251d6d;transform:scaleX(0.9926);"><span style="margin-left:0.52px;letter-spacing:0.52px">-</span><span style="margin-left:0.43px;letter-spacing:0.43px">3</span><span style="margin-left:0.38px;letter-spacing:0.38px">.</span><span style="margin-left:0.79px;letter-spacing:0.79px">0</span><span style="margin-left:0.60px;letter-spacing:0.60px">%</span></div>
<div class="t" style="left:2005.26px;top:2498.60px;font-size:34.60px;line-height:34.60px;font-weight:normal;color:#251d6d;transform:scaleX(0.9989);"><span style="margin-left:0.52px;letter-spacing:0.52px">-</span><span style="margin-left:-0.24px;letter-spacing:-0.24px">5</span><span style="margin-left:0.38px;letter-spacing:0.38px">.</span><span style="margin-left:0.33px;letter-spacing:0.33px">8</span><span style="margin-left:0.60px;letter-spacing:0.60px">%</span></div>
<div class="t" style="left:253.16px;top:2583.85px;font-size:34.60px;line-height:34.60px;font-weight:normal;color:#251d6d;transform:scaleX(1.0395);">Wellington</div>
<div class="t" style="left:802.58px;top:2583.85px;font-size:34.60px;line-height:34.60px;font-weight:normal;color:#251d6d;transform:scaleX(0.9366);"><span style="margin-left:-1.21px;letter-spacing:-1.21px">$</span><span style="margin-left:0.33px;letter-spacing:0.33px">8</span><span style="margin-left:0.60px;letter-spacing:0.60px">4</span><span style="margin-left:-0.18px;letter-spacing:-0.18px">2</span><span style="margin-left:-0.46px;letter-spacing:-0.46px">,</span><span style="margin-left:-2.18px;letter-spacing:-2.18px">1</span><span style="margin-left:0.33px;letter-spacing:0.33px">8</span><span style="margin-left:0.43px;letter-spacing:0.43px">3</span></div>
<div class="t" style="left:1029.70px;top:2583.85px;font-size:34.60px;line-height:34.60px;font-weight:normal;color:#251d6d;transform:scaleX(0.9604);"><span style="margin-left:-1.21px;letter-spacing:-1.21px">$</span><span style="margin-left:0.33px;letter-spacing:0.33px">8</span><span style="margin-left:-0.18px;letter-spacing:-0.18px">2</span><span style="margin-left:-1.09px;letter-spacing:-1.09px">7</span><span style="margin-left:-0.46px;letter-spacing:-0.46px">,</span><span style="margin-left:-0.47px;letter-spacing:-0.47px">9</span><span style="margin-left:0.79px;letter-spacing:0.79px">0</span><span style="margin-left:0.60px;letter-spacing:0.60px">4</span></div>
<div class="t" style="left:1271.21px;top:2583.85px;font-size:34.60px;line-height:34.60px;font-weight:normal;color:#251d6d;transform:scaleX(0.9781);"><span style="margin-left:-1.21px;letter-spacing:-1.21px">$</span><span style="margin-left:0.33px;letter-spacing:0.33px">8</span><span style="margin-left:0.60px;letter-spacing:0.60px">4</span><span style="margin-left:0.79px;letter-spacing:0.79px">0</span><span style="margin-left:-0.46px;letter-spacing:-0.46px">,</span><span style="margin-left:0.33px;letter-spacing:0.33px">8</span><span style="margin-left:0.60px;letter-spacing:0.60px">4</span><span style="margin-left:-0.24px;letter-spacing:-0.24px">5</span></div>
<div class="t" style="left:1512.31px;top:2583.85px;font-size:34.60px;line-height:34.60px;font-weight:normal;color:#251d6d;transform:scaleX(0.9683);"><span style="margin-left:-1.21px;letter-spacing:-1.21px">$</span><span style="margin-left:0.33px;letter-spacing:0.33px">8</span><span style="margin-left:0.43px;letter-spacing:0.43px">3</span><span style="margin-left:-0.24px;letter-spacing:-0.24px">5</span><span style="margin-left:-0.46px;letter-spacing:-0.46px">,</span><span style="margin-left:0.79px;letter-spacing:0.79px">0</span><span style="margin-left:0.33px;letter-spacing:0.33px">8</span><span style="margin-left:-0.18px;letter-spacing:-0.18px">2</span></div>
<div class="t" style="left:1750.30px;top:2583.85px;font-size:34.60px;line-height:34.60px;font-weight:normal;color:#251d6d;transform:scaleX(0.9818);"><span style="margin-left:0.52px;letter-spacing:0.52px">-</span><span style="margin-left:0.79px;letter-spacing:0.79px">0</span><span style="margin-left:0.38px;letter-spacing:0.38px">.</span><span style="margin-left:0.33px;letter-spacing:0.33px">8</span><span style="margin-left:0.60px;letter-spacing:0.60px">%</span></div>
<div class="t" style="left:2005.24px;top:2583.85px;font-size:34.60px;line-height:34.60px;font-weight:normal;color:#251d6d;transform:scaleX(1.0075);"><span style="margin-left:0.52px;letter-spacing:0.52px">-</span><span style="margin-left:0.79px;letter-spacing:0.79px">0</span><span style="margin-left:0.38px;letter-spacing:0.38px">.</span><span style="margin-left:-1.09px;letter-spacing:-1.09px">7</span><span style="margin-left:0.60px;letter-spacing:0.60px">%</span></div>
<div class="t" style="left:253.16px;top:2669.10px;font-size:34.60px;line-height:34.60px;font-weight:normal;color:#251d6d;transform:scaleX(0.9915);">West Coast</div>
<div class="t" style="left:802.59px;top:2669.10px;font-size:34.60px;line-height:34.60px;font-weight:normal;color:#251d6d;transform:scaleX(0.9466);"><span style="margin-left:-1.21px;letter-spacing:-1.21px">$</span><span style="margin-left:-0.24px;letter-spacing:-0.24px">5</span><span style="margin-left:-2.18px;letter-spacing:-2.18px">1</span><span style="margin-left:0.43px;letter-spacing:0.43px">3</span><span style="margin-left:-0.46px;letter-spacing:-0.46px">,</span><span style="margin-left:0.79px;letter-spacing:0.79px">0</span><span style="margin-left:-0.21px;letter-spacing:-0.21px">6</span><span style="margin-left:0.43px;letter-spacing:0.43px">3</span></div>
<div class="t" style="left:1029.67px;top:2669.10px;font-size:34.60px;line-height:34.60px;font-weight:normal;color:#251d6d;transform:scaleX(0.9281);"><span style="margin-left:-1.21px;letter-spacing:-1.21px">$</span><span style="margin-left:0.60px;letter-spacing:0.60px">4</span><span style="margin-left:-0.18px;letter-spacing:-0.18px">2</span><span style="margin-left:-0.47px;letter-spacing:-0.47px">9</span><span style="margin-left:-0.46px;letter-spacing:-0.46px">,</span><span style="margin-left:-0.21px;letter-spacing:-0.21px">6</span><span style="margin-left:0.79px;letter-spacing:0.79px">0</span><span style="margin-left:-2.18px;letter-spacing:-2.18px">1</span></div>
<div class="t" style="left:1271.18px;top:2669.10px;font-size:34.60px;line-height:34.60px;font-weight:normal;color:#251d6d;transform:scaleX(0.9334);"><span style="margin-left:-1.21px;letter-spacing:-1.21px">$</span><span style="margin-left:0.60px;letter-spacing:0.60px">4</span><span style="margin-left:0.79px;letter-spacing:0.79px">0</span><span style="margin-left:-0.47px;letter-spacing:-0.47px">9</span><span style="margin-left:-0.46px;letter-spacing:-0.46px">,</span><span style="margin-left:-2.18px;letter-spacing:-2.18px">1</span><span style="margin-left:0.79px;letter-spacing:0.79px">0</span><span style="margin-left:-0.24px;letter-spacing:-0.24px">5</span></div>
<div class="t" style="left:1512.31px;top:2669.10px;font-size:34.60px;line-height:34.60px;font-weight:normal;color:#251d6d;transform:scaleX(0.9767);"><span style="margin-left:-1.21px;letter-spacing:-1.21px">$</span><span style="margin-left:-0.24px;letter-spacing:-0.24px">5</span><span style="margin-left:-0.18px;letter-spacing:-0.18px">2</span><span style="margin-left:-0.21px;letter-spacing:-0.21px">6</span><span style="margin-left:-0.46px;letter-spacing:-0.46px">,</span><span style="margin-left:0.33px;letter-spacing:0.33px">8</span><span style="margin-left:-1.09px;letter-spacing:-1.09px">7</span><span style="margin-left:-1.09px;letter-spacing:-1.09px">7</span></div>
<div class="t" style="left:1750.76px;top:2669.10px;font-size:34.60px;line-height:34.60px;font-weight:normal;color:#251d6d;transform:scaleX(0.9890);"><span style="margin-left:-0.18px;letter-spacing:-0.18px">2</span><span style="margin-left:0.38px;letter-spacing:0.38px">.</span><span style="margin-left:-1.09px;letter-spacing:-1.09px">7</span><span style="margin-left:0.60px;letter-spacing:0.60px">%</span></div>
<div class="t" style="left:2005.79px;top:2669.10px;font-size:34.60px;line-height:34.60px;font-weight:normal;color:#251d6d;transform:scaleX(0.9707);"><span style="margin-left:-0.18px;letter-spacing:-0.18px">2</span><span style="margin-left:0.33px;letter-spacing:0.33px">8</span><span style="margin-left:0.38px;letter-spacing:0.38px">.</span><span style="margin-left:0.33px;letter-spacing:0.33px">8</span><span style="margin-left:0.60px;letter-spacing:0.60px">%</span></div>
<div class="t" style="left:250.89px;top:2753.55px;font-size:34.60px;line-height:34.60px;font-weight:bold;color:#251d6d;transform:scaleX(1.0401);">National</div>
<div class="t" style="left:802.57px;top:2753.55px;font-size:34.60px;line-height:34.60px;font-weight:bold;color:#251d6d;transform:scaleX(1.0025);"><span style="margin-left:-1.21px;letter-spacing:-1.21px">$</span><span style="margin-left:0.33px;letter-spacing:0.33px">8</span><span style="margin-left:-0.21px;letter-spacing:-0.21px">6</span><span style="margin-left:0.33px;letter-spacing:0.33px">8</span><span style="margin-left:-0.46px;letter-spacing:-0.46px">,</span><span style="margin-left:-0.18px;letter-spacing:-0.18px">2</span><span style="margin-left:-0.24px;letter-spacing:-0.24px">5</span><span style="margin-left:-0.24px;letter-spacing:-0.24px">5</span></div>
<div class="t" style="left:1029.68px;top:2753.55px;font-size:34.60px;line-height:34.60px;font-weight:bold;color:#251d6d;transform:scaleX(1.0235);"><span style="margin-left:-1.21px;letter-spacing:-1.21px">$</span><span style="margin-left:0.33px;letter-spacing:0.33px">8</span><span style="margin-left:-0.24px;letter-spacing:-0.24px">5</span><span style="margin-left:0.79px;letter-spacing:0.79px">0</span><span style="margin-left:-0.46px;letter-spacing:-0.46px">,</span><span style="margin-left:0.43px;letter-spacing:0.43px">3</span><span style="margin-left:-1.09px;letter-spacing:-1.09px">7</span><span style="margin-left:-1.09px;letter-spacing:-1.09px">7</span></div>
<div class="t" style="left:1271.15px;top:2753.55px;font-size:34.60px;line-height:34.60px;font-weight:bold;color:#251d6d;transform:scaleX(0.9877);"><span style="margin-left:-1.21px;letter-spacing:-1.21px">$</span><span style="margin-left:0.33px;letter-spacing:0.33px">8</span><span style="margin-left:0.60px;letter-spacing:0.60px">4</span><span style="margin-left:-1.09px;letter-spacing:-1.09px">7</span><span style="margin-left:-0.46px;letter-spacing:-0.46px">,</span><span style="margin-left:0.60px;letter-spacing:0.60px">4</span><span style="margin-left:-2.18px;letter-spacing:-2.18px">1</span><span style="margin-left:-0.47px;letter-spacing:-0.47px">9</span></div>
<div class="t" style="left:1512.25px;top:2753.55px;font-size:34.60px;line-height:34.60px;font-weight:bold;color:#251d6d;transform:scaleX(0.9765);"><span style="margin-left:-1.21px;letter-spacing:-1.21px">$</span><span style="margin-left:0.33px;letter-spacing:0.33px">8</span><span style="margin-left:-1.09px;letter-spacing:-1.09px">7</span><span style="margin-left:0.79px;letter-spacing:0.79px">0</span><span style="margin-left:-0.46px;letter-spacing:-0.46px">,</span><span style="margin-left:-2.18px;letter-spacing:-2.18px">1</span><span style="margin-left:-2.18px;letter-spacing:-2.18px">1</span><span style="margin-left:0.79px;letter-spacing:0.79px">0</span></div>
<div class="t" style="left:1750.11px;top:2753.55px;font-size:34.60px;line-height:34.60px;font-weight:bold;color:#251d6d;transform:scaleX(1.0214);"><span style="margin-left:0.79px;letter-spacing:0.79px">0</span><span style="margin-left:0.38px;letter-spacing:0.38px">.</span><span style="margin-left:-0.18px;letter-spacing:-0.18px">2</span><span style="margin-left:0.60px;letter-spacing:0.60px">%</span></div>
<div class="t" style="left:2006.24px;top:2753.55px;font-size:34.60px;line-height:34.60px;font-weight:bold;color:#251d6d;transform:scaleX(1.0204);"><span style="margin-left:-0.18px;letter-spacing:-0.18px">2</span><span style="margin-left:0.38px;letter-spacing:0.38px">.</span><span style="margin-left:-1.09px;letter-spacing:-1.09px">7</span><span style="margin-left:0.60px;letter-spacing:0.60px">%</span></div>
<div class="t" style="left:446.06px;top:3029.36px;font-size:48.00px;line-height:48.00px;font-weight:bold;color:#1010a0;transform:scaleX(0.9457);">Price change</div>
<div class="t" style="left:293.66px;top:3090.85px;font-size:46.00px;line-height:46.00px;font-weight:normal;color:#1010a0;transform:scaleX(1.0189);-webkit-text-stroke:0.8px #fff;">Decrease</div>
<div class="t" style="left:710.62px;top:3090.85px;font-size:46.00px;line-height:46.00px;font-weight:normal;color:#1010a0;transform:scaleX(1.0344);-webkit-text-stroke:0.8px #fff;">Increase</div>
<svg class="abs" style="left:0;top:0" width="1000" height="3300" viewBox="0 0 1000 3300"><polygon fill="#0099ff" points="236.1,3192.6 286.7,3160.3 286.7,3224.8"/><polygon fill="#5dffd6" points="905,3160.3 955.8,3192.6 905,3224.8"/></svg>
<div class="r" style="left:296.60px;top:3158.00px;width:113.20px;height:67.00px;background:#9dd5fd;border-radius:22px;"></div>
<div class="r" style="left:417.20px;top:3158.00px;width:113.50px;height:67.00px;background:#d9effc;border-radius:22px;"></div>
<div class="r" style="left:538.10px;top:3158.00px;width:113.20px;height:67.00px;background:#e6e6e6;border-radius:22px;"></div>
<div class="r" style="left:658.90px;top:3158.00px;width:113.20px;height:67.00px;background:#e3fef7;border-radius:22px;"></div>
<div class="r" style="left:779.80px;top:3158.00px;width:113.20px;height:67.00px;background:#c2fcee;border-radius:22px;"></div>
<div class="t" style="left:315.96px;top:3174.04px;font-size:33.50px;line-height:33.50px;font-weight:normal;color:#1010a0;">›</div>
<div class="t" style="left:334.44px;top:3174.04px;font-size:33.50px;line-height:33.50px;font-weight:normal;color:#1010a0;transform:scaleX(1.0916);">5%</div>
<div class="t" style="left:440.76px;top:3174.04px;font-size:33.50px;line-height:33.50px;font-weight:normal;color:#1010a0;">‹</div>
<div class="t" style="left:459.26px;top:3174.04px;font-size:33.50px;line-height:33.50px;font-weight:normal;color:#1010a0;transform:scaleX(1.0720);">5%</div>
<div class="t" style="left:586.18px;top:3174.04px;font-size:33.50px;line-height:33.50px;font-weight:normal;color:#1010a0;transform:scaleX(1.0866);">0</div>
<div class="t" style="left:678.26px;top:3174.04px;font-size:33.50px;line-height:33.50px;font-weight:normal;color:#1010a0;">‹</div>
<div class="t" style="left:697.44px;top:3174.04px;font-size:33.50px;line-height:33.50px;font-weight:normal;color:#1010a0;transform:scaleX(1.0916);">5%</div>
<div class="t" style="left:805.36px;top:3174.04px;font-size:33.50px;line-height:33.50px;font-weight:normal;color:#1010a0;">›</div>
<div class="t" style="left:815.75px;top:3174.04px;font-size:33.50px;line-height:33.50px;font-weight:normal;color:#1010a0;transform:scaleX(1.0829);">5%</div>
<div class="t" style="left:1294.51px;top:3041.56px;font-size:39.50px;line-height:39.50px;font-weight:normal;color:#1010a0;transform:scaleX(1.0260);-webkit-text-stroke:0.9px #fff;">The average asking price is calculated by taking</div>
<div class="t" style="left:1293.70px;top:3091.46px;font-size:39.50px;line-height:39.50px;font-weight:normal;color:#1010a0;transform:scaleX(1.0268);-webkit-text-stroke:0.9px #fff;">every residential listing’s indicated asking price and</div>
<div class="t" style="left:1293.67px;top:3141.26px;font-size:39.50px;line-height:39.50px;font-weight:normal;color:#1010a0;transform:scaleX(1.0410);-webkit-text-stroke:0.9px #fff;">dividing it by the total number of properties.</div>
<div class="t" style="left:1296.94px;top:3208.18px;font-size:30.50px;line-height:30.50px;font-weight:normal;color:#707070;transform:scaleX(1.0374);-webkit-text-stroke:0.6px #fff;">Asking prices for new listing calculated as seasonally adjusted</div>
<div class="t" style="left:1295.00px;top:3245.68px;font-size:30.50px;line-height:30.50px;font-weight:normal;color:#707070;transform:scaleX(1.0233);-webkit-text-stroke:0.6px #fff;">prices using X13 ARIMA methodology.</div>
</div></body></html>
